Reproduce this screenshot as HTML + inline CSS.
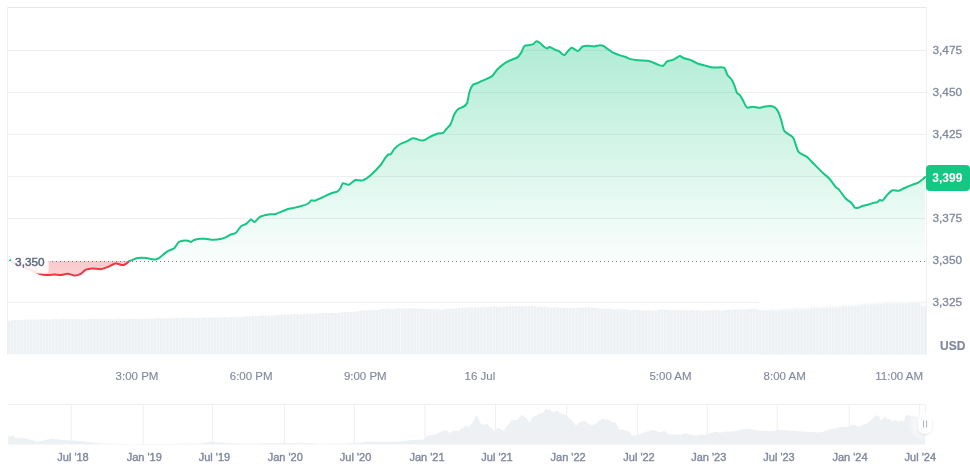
<!DOCTYPE html>
<html><head><meta charset="utf-8">
<style>
html,body{margin:0;padding:0;background:#fff;width:970px;height:467px;overflow:hidden}
svg{display:block;font-family:"Liberation Sans",sans-serif;will-change:transform}
</style></head><body>
<svg width="970" height="467" viewBox="0 0 970 467">
<defs>
<linearGradient id="gg" x1="0" y1="41" x2="0" y2="260" gradientUnits="userSpaceOnUse">
<stop offset="0" stop-color="#16c784" stop-opacity="0.34"/>
<stop offset="1" stop-color="#16c784" stop-opacity="0.02"/>
</linearGradient>
<linearGradient id="rg" x1="0" y1="260" x2="0" y2="276" gradientUnits="userSpaceOnUse">
<stop offset="0" stop-color="#ea3943" stop-opacity="0.28"/>
<stop offset="1" stop-color="#ea3943" stop-opacity="0.22"/>
</linearGradient>
<filter id="sh" x="-150%" y="-150%" width="400%" height="400%"><feDropShadow dx="0" dy="1" stdDeviation="1.2" flood-color="#000" flood-opacity="0.12"/></filter><radialGradient id="glow"><stop offset="0.4" stop-color="#fff" stop-opacity="0.9"/><stop offset="1" stop-color="#fff" stop-opacity="0"/></radialGradient>
</defs>
<!-- frame -->
<line x1="7" y1="7.5" x2="926" y2="7.5" stroke="#e8e8e8" stroke-width="1"/>
<line x1="7.5" y1="7" x2="7.5" y2="354.5" stroke="#efefef" stroke-width="1"/>
<line x1="926.5" y1="7" x2="926.5" y2="354.5" stroke="#efefef" stroke-width="1"/>
<g stroke="#efefef" stroke-width="1"><line x1="8" y1="50.5" x2="926" y2="50.5"/><line x1="8" y1="92.5" x2="926" y2="92.5"/><line x1="8" y1="134.5" x2="926" y2="134.5"/><line x1="8" y1="176.5" x2="926" y2="176.5"/><line x1="8" y1="218.5" x2="926" y2="218.5"/><line x1="8" y1="302.5" x2="759" y2="302.5"/></g>
<!-- volume -->
<clipPath id="cl"><rect x="8" y="250" width="751" height="104.5"/></clipPath><clipPath id="cr"><rect x="759" y="250" width="167" height="104.5"/></clipPath><filter id="vb" x="0" y="-20%" width="100%" height="140%"><feGaussianBlur stdDeviation="0 1.3"/></filter><g clip-path="url(#cl)"><polygon points="8.0,354.5 8.0,320.4 11.2,320.4 11.2,320.2 14.3,320.2 14.3,319.9 17.5,319.9 17.5,320.2 20.7,320.2 20.7,319.9 23.9,319.9 23.9,319.5 27.0,319.5 27.0,319.5 30.2,319.5 30.2,319.7 33.4,319.7 33.4,319.6 36.5,319.6 36.5,319.4 39.7,319.4 39.7,319.3 42.9,319.3 42.9,319.3 46.0,319.3 46.0,319.2 49.2,319.2 49.2,319.5 52.4,319.5 52.4,318.9 55.6,318.9 55.6,319.3 58.7,319.3 58.7,319.2 61.9,319.2 61.9,318.8 65.1,318.8 65.1,319.3 68.2,319.3 68.2,319.1 71.4,319.1 71.4,319.2 74.6,319.2 74.6,318.9 77.7,318.9 77.7,318.9 80.9,318.9 80.9,318.9 84.1,318.9 84.1,319.3 87.3,319.3 87.3,319.1 90.4,319.1 90.4,318.9 93.6,318.9 93.6,319.0 96.8,319.0 96.8,318.9 99.9,318.9 99.9,318.7 103.1,318.7 103.1,318.8 106.3,318.8 106.3,319.2 109.4,319.2 109.4,318.9 112.6,318.9 112.6,319.3 115.8,319.3 115.8,318.8 119.0,318.8 119.0,318.8 122.1,318.8 122.1,318.9 125.3,318.9 125.3,318.7 128.5,318.7 128.5,318.7 131.6,318.7 131.6,319.0 134.8,319.0 134.8,318.9 138.0,318.9 138.0,318.8 141.1,318.8 141.1,318.7 144.3,318.7 144.3,318.8 147.5,318.8 147.5,318.8 150.6,318.8 150.6,318.5 153.8,318.5 153.8,318.5 157.0,318.5 157.0,318.1 160.2,318.1 160.2,318.4 163.3,318.4 163.3,318.2 166.5,318.2 166.5,318.4 169.7,318.4 169.7,318.2 172.8,318.2 172.8,318.0 176.0,318.0 176.0,317.8 179.2,317.8 179.2,318.3 182.3,318.3 182.3,317.7 185.5,317.7 185.5,317.9 188.7,317.9 188.7,317.8 191.9,317.8 191.9,317.7 195.0,317.7 195.0,317.9 198.2,317.9 198.2,318.0 201.4,318.0 201.4,317.5 204.5,317.5 204.5,317.7 207.7,317.7 207.7,317.4 210.9,317.4 210.9,317.6 214.0,317.6 214.0,317.4 217.2,317.4 217.2,317.2 220.4,317.2 220.4,317.2 223.6,317.2 223.6,317.1 226.7,317.1 226.7,317.5 229.9,317.5 229.9,317.1 233.1,317.1 233.1,316.9 236.2,316.9 236.2,317.2 239.4,317.2 239.4,317.1 242.6,317.1 242.6,316.7 245.7,316.7 245.7,316.4 248.9,316.4 248.9,316.4 252.1,316.4 252.1,316.1 255.3,316.1 255.3,316.1 258.4,316.1 258.4,315.7 261.6,315.7 261.6,315.6 264.8,315.6 264.8,315.5 267.9,315.5 267.9,315.5 271.1,315.5 271.1,315.5 274.3,315.5 274.3,315.3 277.4,315.3 277.4,314.9 280.6,314.9 280.6,314.8 283.8,314.8 283.8,314.8 287.0,314.8 287.0,314.5 290.1,314.5 290.1,314.4 293.3,314.4 293.3,314.1 296.5,314.1 296.5,314.1 299.6,314.1 299.6,314.4 302.8,314.4 302.8,313.7 306.0,313.7 306.0,313.8 309.1,313.8 309.1,313.8 312.3,313.8 312.3,313.8 315.5,313.8 315.5,313.3 318.7,313.3 318.7,313.2 321.8,313.2 321.8,313.0 325.0,313.0 325.0,313.0 328.2,313.0 328.2,312.9 331.3,312.9 331.3,313.1 334.5,313.1 334.5,312.9 337.7,312.9 337.7,312.8 340.8,312.8 340.8,312.2 344.0,312.2 344.0,312.1 347.2,312.1 347.2,312.3 350.4,312.3 350.4,312.1 353.5,312.1 353.5,311.5 356.7,311.5 356.7,311.2 359.9,311.2 359.9,310.5 363.0,310.5 363.0,310.4 366.2,310.4 366.2,310.5 369.4,310.5 369.4,310.2 372.6,310.2 372.6,310.0 375.7,310.0 375.7,309.9 378.9,309.9 378.9,309.2 382.1,309.2 382.1,309.0 385.2,309.0 385.2,308.8 388.4,308.8 388.4,308.8 391.6,308.8 391.6,308.7 394.7,308.7 394.7,308.7 397.9,308.7 397.9,308.3 401.1,308.3 401.1,308.2 404.3,308.2 404.3,308.4 407.4,308.4 407.4,308.3 410.6,308.3 410.6,308.5 413.8,308.5 413.8,308.3 416.9,308.3 416.9,308.9 420.1,308.9 420.1,308.6 423.3,308.6 423.3,309.2 426.4,309.2 426.4,309.1 429.6,309.1 429.6,309.0 432.8,309.0 432.8,309.0 436.0,309.0 436.0,309.2 439.1,309.2 439.1,309.4 442.3,309.4 442.3,309.2 445.5,309.2 445.5,308.7 448.6,308.7 448.6,308.4 451.8,308.4 451.8,308.5 455.0,308.5 455.0,308.3 458.1,308.3 458.1,308.0 461.3,308.0 461.3,307.8 464.5,307.8 464.5,307.8 467.7,307.8 467.7,307.3 470.8,307.3 470.8,307.4 474.0,307.4 474.0,307.3 477.2,307.3 477.2,307.5 480.3,307.5 480.3,307.2 483.5,307.2 483.5,307.3 486.7,307.3 486.7,306.9 489.8,306.9 489.8,306.7 493.0,306.7 493.0,306.6 496.2,306.6 496.2,306.9 499.4,306.9 499.4,306.7 502.5,306.7 502.5,306.4 505.7,306.4 505.7,306.1 508.9,306.1 508.9,306.3 512.0,306.3 512.0,306.3 515.2,306.3 515.2,306.1 518.4,306.1 518.4,306.0 521.5,306.0 521.5,306.2 524.7,306.2 524.7,306.4 527.9,306.4 527.9,306.1 531.1,306.1 531.1,306.1 534.2,306.1 534.2,306.5 537.4,306.5 537.4,306.7 540.6,306.7 540.6,307.0 543.7,307.0 543.7,306.8 546.9,306.8 546.9,307.3 550.1,307.3 550.1,307.5 553.2,307.5 553.2,307.5 556.4,307.5 556.4,307.4 559.6,307.4 559.6,308.0 562.8,308.0 562.8,307.7 565.9,307.7 565.9,308.1 569.1,308.1 569.1,307.9 572.3,307.9 572.3,307.9 575.4,307.9 575.4,308.0 578.6,308.0 578.6,307.6 581.8,307.6 581.8,307.8 584.9,307.8 584.9,307.5 588.1,307.5 588.1,307.5 591.3,307.5 591.3,307.8 594.4,307.8 594.4,308.1 597.6,308.1 597.6,308.4 600.8,308.4 600.8,308.7 604.0,308.7 604.0,308.4 607.1,308.4 607.1,308.7 610.3,308.7 610.3,308.8 613.5,308.8 613.5,309.4 616.6,309.4 616.6,309.1 619.8,309.1 619.8,309.2 623.0,309.2 623.0,309.3 626.1,309.3 626.1,309.6 629.3,309.6 629.3,310.0 632.5,310.0 632.5,310.1 635.7,310.1 635.7,310.1 638.8,310.1 638.8,310.4 642.0,310.4 642.0,310.5 645.2,310.5 645.2,310.2 648.3,310.2 648.3,310.2 651.5,310.2 651.5,310.8 654.7,310.8 654.7,310.5 657.8,310.5 657.8,309.6 661.0,309.6 661.0,309.5 664.2,309.5 664.2,309.8 667.4,309.8 667.4,310.1 670.5,310.1 670.5,310.2 673.7,310.2 673.7,310.1 676.9,310.1 676.9,310.0 680.0,310.0 680.0,310.2 683.2,310.2 683.2,310.2 686.4,310.2 686.4,310.6 689.5,310.6 689.5,310.1 692.7,310.1 692.7,310.6 695.9,310.6 695.9,310.1 699.1,310.1 699.1,310.2 702.2,310.2 702.2,310.5 705.4,310.5 705.4,310.5 708.6,310.5 708.6,310.3 711.7,310.3 711.7,310.0 714.9,310.0 714.9,310.3 718.1,310.3 718.1,310.2 721.2,310.2 721.2,310.5 724.4,310.5 724.4,309.9 727.6,309.9 727.6,309.8 730.8,309.8 730.8,309.9 733.9,309.9 733.9,309.2 737.1,309.2 737.1,309.3 740.3,309.3 740.3,309.5 743.4,309.5 743.4,309.5 746.6,309.5 746.6,309.0 749.8,309.0 749.8,309.0 752.9,309.0 752.9,309.0 756.1,309.0 756.1,309.6 759.3,309.6 759.3,309.6 762.5,309.6 762.5,309.8 765.6,309.8 765.6,309.8 768.8,309.8 768.8,309.3 772.0,309.3 772.0,309.1 775.1,309.1 775.1,309.4 778.3,309.4 778.3,309.1 781.5,309.1 781.5,308.7 784.6,308.7 784.6,308.8 787.8,308.8 787.8,308.5 791.0,308.5 791.0,308.3 794.2,308.3 794.2,308.0 797.3,308.0 797.3,308.3 800.5,308.3 800.5,308.2 803.7,308.2 803.7,307.9 806.8,307.9 806.8,307.9 810.0,307.9 810.0,307.1 813.2,307.1 813.2,307.1 816.3,307.1 816.3,307.1 819.5,307.1 819.5,307.2 822.7,307.2 822.7,307.0 825.9,307.0 825.9,306.5 829.0,306.5 829.0,306.3 832.2,306.3 832.2,306.2 835.4,306.2 835.4,306.0 838.5,306.0 838.5,306.0 841.7,306.0 841.7,305.3 844.9,305.3 844.9,305.4 848.0,305.4 848.0,305.1 851.2,305.1 851.2,304.9 854.4,304.9 854.4,304.7 857.6,304.7 857.6,304.3 860.7,304.3 860.7,303.9 863.9,303.9 863.9,303.6 867.1,303.6 867.1,303.4 870.2,303.4 870.2,303.5 873.4,303.5 873.4,302.9 876.6,302.9 876.6,302.7 879.7,302.7 879.7,302.9 882.9,302.9 882.9,302.4 886.1,302.4 886.1,302.1 889.3,302.1 889.3,301.9 892.4,301.9 892.4,302.0 895.6,302.0 895.6,301.8 898.8,301.8 898.8,302.1 901.9,302.1 901.9,302.0 905.1,302.0 905.1,302.0 908.3,302.0 908.3,301.6 911.4,301.6 911.4,301.4 914.6,301.4 914.6,301.4 917.8,301.4 917.8,301.6 921.0,301.6 921.0,301.7 924.1,301.7 924.1,301.5 926.0,301.5 926.0,354.5" fill="#eef1f4"/><g stroke="#fff" stroke-opacity="0.45" stroke-width="0.9"><line x1="10.60" y1="320.4" x2="10.60" y2="354.5"/><line x1="13.77" y1="320.2" x2="13.77" y2="354.5"/><line x1="16.94" y1="319.9" x2="16.94" y2="354.5"/><line x1="20.11" y1="320.2" x2="20.11" y2="354.5"/><line x1="23.28" y1="319.9" x2="23.28" y2="354.5"/><line x1="26.45" y1="319.5" x2="26.45" y2="354.5"/><line x1="29.62" y1="319.5" x2="29.62" y2="354.5"/><line x1="32.79" y1="319.7" x2="32.79" y2="354.5"/><line x1="35.96" y1="319.6" x2="35.96" y2="354.5"/><line x1="39.13" y1="319.4" x2="39.13" y2="354.5"/><line x1="42.30" y1="319.3" x2="42.30" y2="354.5"/><line x1="45.47" y1="319.3" x2="45.47" y2="354.5"/><line x1="48.64" y1="319.2" x2="48.64" y2="354.5"/><line x1="51.81" y1="319.5" x2="51.81" y2="354.5"/><line x1="54.98" y1="318.9" x2="54.98" y2="354.5"/><line x1="58.15" y1="319.3" x2="58.15" y2="354.5"/><line x1="61.32" y1="319.2" x2="61.32" y2="354.5"/><line x1="64.49" y1="318.8" x2="64.49" y2="354.5"/><line x1="67.66" y1="319.3" x2="67.66" y2="354.5"/><line x1="70.83" y1="319.1" x2="70.83" y2="354.5"/><line x1="74.00" y1="319.2" x2="74.00" y2="354.5"/><line x1="77.17" y1="318.9" x2="77.17" y2="354.5"/><line x1="80.34" y1="318.9" x2="80.34" y2="354.5"/><line x1="83.51" y1="318.9" x2="83.51" y2="354.5"/><line x1="86.68" y1="319.3" x2="86.68" y2="354.5"/><line x1="89.85" y1="319.1" x2="89.85" y2="354.5"/><line x1="93.02" y1="318.9" x2="93.02" y2="354.5"/><line x1="96.19" y1="319.0" x2="96.19" y2="354.5"/><line x1="99.36" y1="318.9" x2="99.36" y2="354.5"/><line x1="102.53" y1="318.7" x2="102.53" y2="354.5"/><line x1="105.70" y1="318.8" x2="105.70" y2="354.5"/><line x1="108.87" y1="319.2" x2="108.87" y2="354.5"/><line x1="112.04" y1="318.9" x2="112.04" y2="354.5"/><line x1="115.21" y1="319.3" x2="115.21" y2="354.5"/><line x1="118.38" y1="318.8" x2="118.38" y2="354.5"/><line x1="121.55" y1="318.8" x2="121.55" y2="354.5"/><line x1="124.72" y1="318.9" x2="124.72" y2="354.5"/><line x1="127.89" y1="318.7" x2="127.89" y2="354.5"/><line x1="131.06" y1="318.7" x2="131.06" y2="354.5"/><line x1="134.23" y1="319.0" x2="134.23" y2="354.5"/><line x1="137.40" y1="318.9" x2="137.40" y2="354.5"/><line x1="140.57" y1="318.8" x2="140.57" y2="354.5"/><line x1="143.74" y1="318.7" x2="143.74" y2="354.5"/><line x1="146.91" y1="318.8" x2="146.91" y2="354.5"/><line x1="150.08" y1="318.8" x2="150.08" y2="354.5"/><line x1="153.25" y1="318.5" x2="153.25" y2="354.5"/><line x1="156.42" y1="318.5" x2="156.42" y2="354.5"/><line x1="159.59" y1="318.1" x2="159.59" y2="354.5"/><line x1="162.76" y1="318.4" x2="162.76" y2="354.5"/><line x1="165.93" y1="318.2" x2="165.93" y2="354.5"/><line x1="169.10" y1="318.4" x2="169.10" y2="354.5"/><line x1="172.27" y1="318.2" x2="172.27" y2="354.5"/><line x1="175.44" y1="318.0" x2="175.44" y2="354.5"/><line x1="178.61" y1="317.8" x2="178.61" y2="354.5"/><line x1="181.78" y1="318.3" x2="181.78" y2="354.5"/><line x1="184.95" y1="317.7" x2="184.95" y2="354.5"/><line x1="188.12" y1="317.9" x2="188.12" y2="354.5"/><line x1="191.29" y1="317.8" x2="191.29" y2="354.5"/><line x1="194.46" y1="317.7" x2="194.46" y2="354.5"/><line x1="197.63" y1="317.9" x2="197.63" y2="354.5"/><line x1="200.80" y1="318.0" x2="200.80" y2="354.5"/><line x1="203.97" y1="317.5" x2="203.97" y2="354.5"/><line x1="207.14" y1="317.7" x2="207.14" y2="354.5"/><line x1="210.31" y1="317.4" x2="210.31" y2="354.5"/><line x1="213.48" y1="317.6" x2="213.48" y2="354.5"/><line x1="216.65" y1="317.4" x2="216.65" y2="354.5"/><line x1="219.82" y1="317.2" x2="219.82" y2="354.5"/><line x1="222.99" y1="317.2" x2="222.99" y2="354.5"/><line x1="226.16" y1="317.1" x2="226.16" y2="354.5"/><line x1="229.33" y1="317.5" x2="229.33" y2="354.5"/><line x1="232.50" y1="317.1" x2="232.50" y2="354.5"/><line x1="235.67" y1="316.9" x2="235.67" y2="354.5"/><line x1="238.84" y1="317.2" x2="238.84" y2="354.5"/><line x1="242.01" y1="317.1" x2="242.01" y2="354.5"/><line x1="245.18" y1="316.7" x2="245.18" y2="354.5"/><line x1="248.35" y1="316.4" x2="248.35" y2="354.5"/><line x1="251.52" y1="316.4" x2="251.52" y2="354.5"/><line x1="254.69" y1="316.1" x2="254.69" y2="354.5"/><line x1="257.86" y1="316.1" x2="257.86" y2="354.5"/><line x1="261.03" y1="315.7" x2="261.03" y2="354.5"/><line x1="264.20" y1="315.6" x2="264.20" y2="354.5"/><line x1="267.37" y1="315.5" x2="267.37" y2="354.5"/><line x1="270.54" y1="315.5" x2="270.54" y2="354.5"/><line x1="273.71" y1="315.5" x2="273.71" y2="354.5"/><line x1="276.88" y1="315.3" x2="276.88" y2="354.5"/><line x1="280.05" y1="314.9" x2="280.05" y2="354.5"/><line x1="283.22" y1="314.8" x2="283.22" y2="354.5"/><line x1="286.39" y1="314.8" x2="286.39" y2="354.5"/><line x1="289.56" y1="314.5" x2="289.56" y2="354.5"/><line x1="292.73" y1="314.4" x2="292.73" y2="354.5"/><line x1="295.90" y1="314.1" x2="295.90" y2="354.5"/><line x1="299.07" y1="314.1" x2="299.07" y2="354.5"/><line x1="302.24" y1="314.4" x2="302.24" y2="354.5"/><line x1="305.41" y1="313.7" x2="305.41" y2="354.5"/><line x1="308.58" y1="313.8" x2="308.58" y2="354.5"/><line x1="311.75" y1="313.8" x2="311.75" y2="354.5"/><line x1="314.92" y1="313.8" x2="314.92" y2="354.5"/><line x1="318.09" y1="313.3" x2="318.09" y2="354.5"/><line x1="321.26" y1="313.2" x2="321.26" y2="354.5"/><line x1="324.43" y1="313.0" x2="324.43" y2="354.5"/><line x1="327.60" y1="313.0" x2="327.60" y2="354.5"/><line x1="330.77" y1="312.9" x2="330.77" y2="354.5"/><line x1="333.94" y1="313.1" x2="333.94" y2="354.5"/><line x1="337.11" y1="312.9" x2="337.11" y2="354.5"/><line x1="340.28" y1="312.8" x2="340.28" y2="354.5"/><line x1="343.45" y1="312.2" x2="343.45" y2="354.5"/><line x1="346.62" y1="312.1" x2="346.62" y2="354.5"/><line x1="349.79" y1="312.3" x2="349.79" y2="354.5"/><line x1="352.96" y1="312.1" x2="352.96" y2="354.5"/><line x1="356.13" y1="311.5" x2="356.13" y2="354.5"/><line x1="359.30" y1="311.2" x2="359.30" y2="354.5"/><line x1="362.47" y1="310.5" x2="362.47" y2="354.5"/><line x1="365.64" y1="310.4" x2="365.64" y2="354.5"/><line x1="368.81" y1="310.5" x2="368.81" y2="354.5"/><line x1="371.98" y1="310.2" x2="371.98" y2="354.5"/><line x1="375.15" y1="310.0" x2="375.15" y2="354.5"/><line x1="378.32" y1="309.9" x2="378.32" y2="354.5"/><line x1="381.49" y1="309.2" x2="381.49" y2="354.5"/><line x1="384.66" y1="309.0" x2="384.66" y2="354.5"/><line x1="387.83" y1="308.8" x2="387.83" y2="354.5"/><line x1="391.00" y1="308.8" x2="391.00" y2="354.5"/><line x1="394.17" y1="308.7" x2="394.17" y2="354.5"/><line x1="397.34" y1="308.7" x2="397.34" y2="354.5"/><line x1="400.51" y1="308.3" x2="400.51" y2="354.5"/><line x1="403.68" y1="308.2" x2="403.68" y2="354.5"/><line x1="406.85" y1="308.4" x2="406.85" y2="354.5"/><line x1="410.02" y1="308.3" x2="410.02" y2="354.5"/><line x1="413.19" y1="308.5" x2="413.19" y2="354.5"/><line x1="416.36" y1="308.3" x2="416.36" y2="354.5"/><line x1="419.53" y1="308.9" x2="419.53" y2="354.5"/><line x1="422.70" y1="308.6" x2="422.70" y2="354.5"/><line x1="425.87" y1="309.2" x2="425.87" y2="354.5"/><line x1="429.04" y1="309.1" x2="429.04" y2="354.5"/><line x1="432.21" y1="309.0" x2="432.21" y2="354.5"/><line x1="435.38" y1="309.0" x2="435.38" y2="354.5"/><line x1="438.55" y1="309.2" x2="438.55" y2="354.5"/><line x1="441.72" y1="309.4" x2="441.72" y2="354.5"/><line x1="444.89" y1="309.2" x2="444.89" y2="354.5"/><line x1="448.06" y1="308.7" x2="448.06" y2="354.5"/><line x1="451.23" y1="308.4" x2="451.23" y2="354.5"/><line x1="454.40" y1="308.5" x2="454.40" y2="354.5"/><line x1="457.57" y1="308.3" x2="457.57" y2="354.5"/><line x1="460.74" y1="308.0" x2="460.74" y2="354.5"/><line x1="463.91" y1="307.8" x2="463.91" y2="354.5"/><line x1="467.08" y1="307.8" x2="467.08" y2="354.5"/><line x1="470.25" y1="307.3" x2="470.25" y2="354.5"/><line x1="473.42" y1="307.4" x2="473.42" y2="354.5"/><line x1="476.59" y1="307.3" x2="476.59" y2="354.5"/><line x1="479.76" y1="307.5" x2="479.76" y2="354.5"/><line x1="482.93" y1="307.2" x2="482.93" y2="354.5"/><line x1="486.10" y1="307.3" x2="486.10" y2="354.5"/><line x1="489.27" y1="306.9" x2="489.27" y2="354.5"/><line x1="492.44" y1="306.7" x2="492.44" y2="354.5"/><line x1="495.61" y1="306.6" x2="495.61" y2="354.5"/><line x1="498.78" y1="306.9" x2="498.78" y2="354.5"/><line x1="501.95" y1="306.7" x2="501.95" y2="354.5"/><line x1="505.12" y1="306.4" x2="505.12" y2="354.5"/><line x1="508.29" y1="306.1" x2="508.29" y2="354.5"/><line x1="511.46" y1="306.3" x2="511.46" y2="354.5"/><line x1="514.63" y1="306.3" x2="514.63" y2="354.5"/><line x1="517.80" y1="306.1" x2="517.80" y2="354.5"/><line x1="520.97" y1="306.0" x2="520.97" y2="354.5"/><line x1="524.14" y1="306.2" x2="524.14" y2="354.5"/><line x1="527.31" y1="306.4" x2="527.31" y2="354.5"/><line x1="530.48" y1="306.1" x2="530.48" y2="354.5"/><line x1="533.65" y1="306.1" x2="533.65" y2="354.5"/><line x1="536.82" y1="306.5" x2="536.82" y2="354.5"/><line x1="539.99" y1="306.7" x2="539.99" y2="354.5"/><line x1="543.16" y1="307.0" x2="543.16" y2="354.5"/><line x1="546.33" y1="306.8" x2="546.33" y2="354.5"/><line x1="549.50" y1="307.3" x2="549.50" y2="354.5"/><line x1="552.67" y1="307.5" x2="552.67" y2="354.5"/><line x1="555.84" y1="307.5" x2="555.84" y2="354.5"/><line x1="559.01" y1="307.4" x2="559.01" y2="354.5"/><line x1="562.18" y1="308.0" x2="562.18" y2="354.5"/><line x1="565.35" y1="307.7" x2="565.35" y2="354.5"/><line x1="568.52" y1="308.1" x2="568.52" y2="354.5"/><line x1="571.69" y1="307.9" x2="571.69" y2="354.5"/><line x1="574.86" y1="307.9" x2="574.86" y2="354.5"/><line x1="578.03" y1="308.0" x2="578.03" y2="354.5"/><line x1="581.20" y1="307.6" x2="581.20" y2="354.5"/><line x1="584.37" y1="307.8" x2="584.37" y2="354.5"/><line x1="587.54" y1="307.5" x2="587.54" y2="354.5"/><line x1="590.71" y1="307.5" x2="590.71" y2="354.5"/><line x1="593.88" y1="307.8" x2="593.88" y2="354.5"/><line x1="597.05" y1="308.1" x2="597.05" y2="354.5"/><line x1="600.22" y1="308.4" x2="600.22" y2="354.5"/><line x1="603.39" y1="308.7" x2="603.39" y2="354.5"/><line x1="606.56" y1="308.4" x2="606.56" y2="354.5"/><line x1="609.73" y1="308.7" x2="609.73" y2="354.5"/><line x1="612.90" y1="308.8" x2="612.90" y2="354.5"/><line x1="616.07" y1="309.4" x2="616.07" y2="354.5"/><line x1="619.24" y1="309.1" x2="619.24" y2="354.5"/><line x1="622.41" y1="309.2" x2="622.41" y2="354.5"/><line x1="625.58" y1="309.3" x2="625.58" y2="354.5"/><line x1="628.75" y1="309.6" x2="628.75" y2="354.5"/><line x1="631.92" y1="310.0" x2="631.92" y2="354.5"/><line x1="635.09" y1="310.1" x2="635.09" y2="354.5"/><line x1="638.26" y1="310.1" x2="638.26" y2="354.5"/><line x1="641.43" y1="310.4" x2="641.43" y2="354.5"/><line x1="644.60" y1="310.5" x2="644.60" y2="354.5"/><line x1="647.77" y1="310.2" x2="647.77" y2="354.5"/><line x1="650.94" y1="310.2" x2="650.94" y2="354.5"/><line x1="654.11" y1="310.8" x2="654.11" y2="354.5"/><line x1="657.28" y1="310.5" x2="657.28" y2="354.5"/><line x1="660.45" y1="309.6" x2="660.45" y2="354.5"/><line x1="663.62" y1="309.5" x2="663.62" y2="354.5"/><line x1="666.79" y1="309.8" x2="666.79" y2="354.5"/><line x1="669.96" y1="310.1" x2="669.96" y2="354.5"/><line x1="673.13" y1="310.2" x2="673.13" y2="354.5"/><line x1="676.30" y1="310.1" x2="676.30" y2="354.5"/><line x1="679.47" y1="310.0" x2="679.47" y2="354.5"/><line x1="682.64" y1="310.2" x2="682.64" y2="354.5"/><line x1="685.81" y1="310.2" x2="685.81" y2="354.5"/><line x1="688.98" y1="310.6" x2="688.98" y2="354.5"/><line x1="692.15" y1="310.1" x2="692.15" y2="354.5"/><line x1="695.32" y1="310.6" x2="695.32" y2="354.5"/><line x1="698.49" y1="310.1" x2="698.49" y2="354.5"/><line x1="701.66" y1="310.2" x2="701.66" y2="354.5"/><line x1="704.83" y1="310.5" x2="704.83" y2="354.5"/><line x1="708.00" y1="310.5" x2="708.00" y2="354.5"/><line x1="711.17" y1="310.3" x2="711.17" y2="354.5"/><line x1="714.34" y1="310.0" x2="714.34" y2="354.5"/><line x1="717.51" y1="310.3" x2="717.51" y2="354.5"/><line x1="720.68" y1="310.2" x2="720.68" y2="354.5"/><line x1="723.85" y1="310.5" x2="723.85" y2="354.5"/><line x1="727.02" y1="309.9" x2="727.02" y2="354.5"/><line x1="730.19" y1="309.8" x2="730.19" y2="354.5"/><line x1="733.36" y1="309.9" x2="733.36" y2="354.5"/><line x1="736.53" y1="309.2" x2="736.53" y2="354.5"/><line x1="739.70" y1="309.3" x2="739.70" y2="354.5"/><line x1="742.87" y1="309.5" x2="742.87" y2="354.5"/><line x1="746.04" y1="309.5" x2="746.04" y2="354.5"/><line x1="749.21" y1="309.0" x2="749.21" y2="354.5"/><line x1="752.38" y1="309.0" x2="752.38" y2="354.5"/><line x1="755.55" y1="309.0" x2="755.55" y2="354.5"/><line x1="758.72" y1="309.6" x2="758.72" y2="354.5"/><line x1="761.89" y1="309.6" x2="761.89" y2="354.5"/><line x1="765.06" y1="309.8" x2="765.06" y2="354.5"/><line x1="768.23" y1="309.8" x2="768.23" y2="354.5"/><line x1="771.40" y1="309.3" x2="771.40" y2="354.5"/><line x1="774.57" y1="309.1" x2="774.57" y2="354.5"/><line x1="777.74" y1="309.4" x2="777.74" y2="354.5"/><line x1="780.91" y1="309.1" x2="780.91" y2="354.5"/><line x1="784.08" y1="308.7" x2="784.08" y2="354.5"/><line x1="787.25" y1="308.8" x2="787.25" y2="354.5"/><line x1="790.42" y1="308.5" x2="790.42" y2="354.5"/><line x1="793.59" y1="308.3" x2="793.59" y2="354.5"/><line x1="796.76" y1="308.0" x2="796.76" y2="354.5"/><line x1="799.93" y1="308.3" x2="799.93" y2="354.5"/><line x1="803.10" y1="308.2" x2="803.10" y2="354.5"/><line x1="806.27" y1="307.9" x2="806.27" y2="354.5"/><line x1="809.44" y1="307.9" x2="809.44" y2="354.5"/><line x1="812.61" y1="307.1" x2="812.61" y2="354.5"/><line x1="815.78" y1="307.1" x2="815.78" y2="354.5"/><line x1="818.95" y1="307.1" x2="818.95" y2="354.5"/><line x1="822.12" y1="307.2" x2="822.12" y2="354.5"/><line x1="825.29" y1="307.0" x2="825.29" y2="354.5"/><line x1="828.46" y1="306.5" x2="828.46" y2="354.5"/><line x1="831.63" y1="306.3" x2="831.63" y2="354.5"/><line x1="834.80" y1="306.2" x2="834.80" y2="354.5"/><line x1="837.97" y1="306.0" x2="837.97" y2="354.5"/><line x1="841.14" y1="306.0" x2="841.14" y2="354.5"/><line x1="844.31" y1="305.3" x2="844.31" y2="354.5"/><line x1="847.48" y1="305.4" x2="847.48" y2="354.5"/><line x1="850.65" y1="305.1" x2="850.65" y2="354.5"/><line x1="853.82" y1="304.9" x2="853.82" y2="354.5"/><line x1="856.99" y1="304.7" x2="856.99" y2="354.5"/><line x1="860.16" y1="304.3" x2="860.16" y2="354.5"/><line x1="863.33" y1="303.9" x2="863.33" y2="354.5"/><line x1="866.50" y1="303.6" x2="866.50" y2="354.5"/><line x1="869.67" y1="303.4" x2="869.67" y2="354.5"/><line x1="872.84" y1="303.5" x2="872.84" y2="354.5"/><line x1="876.01" y1="302.9" x2="876.01" y2="354.5"/><line x1="879.18" y1="302.7" x2="879.18" y2="354.5"/><line x1="882.35" y1="302.9" x2="882.35" y2="354.5"/><line x1="885.52" y1="302.4" x2="885.52" y2="354.5"/><line x1="888.69" y1="302.1" x2="888.69" y2="354.5"/><line x1="891.86" y1="301.9" x2="891.86" y2="354.5"/><line x1="895.03" y1="302.0" x2="895.03" y2="354.5"/><line x1="898.20" y1="301.8" x2="898.20" y2="354.5"/><line x1="901.37" y1="302.1" x2="901.37" y2="354.5"/><line x1="904.54" y1="302.0" x2="904.54" y2="354.5"/><line x1="907.71" y1="302.0" x2="907.71" y2="354.5"/><line x1="910.88" y1="301.6" x2="910.88" y2="354.5"/><line x1="914.05" y1="301.4" x2="914.05" y2="354.5"/><line x1="917.22" y1="301.4" x2="917.22" y2="354.5"/><line x1="920.39" y1="301.6" x2="920.39" y2="354.5"/><line x1="923.56" y1="301.7" x2="923.56" y2="354.5"/><line x1="926.73" y1="301.5" x2="926.73" y2="354.5"/></g></g><g clip-path="url(#cr)"><g filter="url(#vb)"><polygon points="8.0,354.5 8.0,320.4 11.2,320.4 11.2,320.2 14.3,320.2 14.3,319.9 17.5,319.9 17.5,320.2 20.7,320.2 20.7,319.9 23.9,319.9 23.9,319.5 27.0,319.5 27.0,319.5 30.2,319.5 30.2,319.7 33.4,319.7 33.4,319.6 36.5,319.6 36.5,319.4 39.7,319.4 39.7,319.3 42.9,319.3 42.9,319.3 46.0,319.3 46.0,319.2 49.2,319.2 49.2,319.5 52.4,319.5 52.4,318.9 55.6,318.9 55.6,319.3 58.7,319.3 58.7,319.2 61.9,319.2 61.9,318.8 65.1,318.8 65.1,319.3 68.2,319.3 68.2,319.1 71.4,319.1 71.4,319.2 74.6,319.2 74.6,318.9 77.7,318.9 77.7,318.9 80.9,318.9 80.9,318.9 84.1,318.9 84.1,319.3 87.3,319.3 87.3,319.1 90.4,319.1 90.4,318.9 93.6,318.9 93.6,319.0 96.8,319.0 96.8,318.9 99.9,318.9 99.9,318.7 103.1,318.7 103.1,318.8 106.3,318.8 106.3,319.2 109.4,319.2 109.4,318.9 112.6,318.9 112.6,319.3 115.8,319.3 115.8,318.8 119.0,318.8 119.0,318.8 122.1,318.8 122.1,318.9 125.3,318.9 125.3,318.7 128.5,318.7 128.5,318.7 131.6,318.7 131.6,319.0 134.8,319.0 134.8,318.9 138.0,318.9 138.0,318.8 141.1,318.8 141.1,318.7 144.3,318.7 144.3,318.8 147.5,318.8 147.5,318.8 150.6,318.8 150.6,318.5 153.8,318.5 153.8,318.5 157.0,318.5 157.0,318.1 160.2,318.1 160.2,318.4 163.3,318.4 163.3,318.2 166.5,318.2 166.5,318.4 169.7,318.4 169.7,318.2 172.8,318.2 172.8,318.0 176.0,318.0 176.0,317.8 179.2,317.8 179.2,318.3 182.3,318.3 182.3,317.7 185.5,317.7 185.5,317.9 188.7,317.9 188.7,317.8 191.9,317.8 191.9,317.7 195.0,317.7 195.0,317.9 198.2,317.9 198.2,318.0 201.4,318.0 201.4,317.5 204.5,317.5 204.5,317.7 207.7,317.7 207.7,317.4 210.9,317.4 210.9,317.6 214.0,317.6 214.0,317.4 217.2,317.4 217.2,317.2 220.4,317.2 220.4,317.2 223.6,317.2 223.6,317.1 226.7,317.1 226.7,317.5 229.9,317.5 229.9,317.1 233.1,317.1 233.1,316.9 236.2,316.9 236.2,317.2 239.4,317.2 239.4,317.1 242.6,317.1 242.6,316.7 245.7,316.7 245.7,316.4 248.9,316.4 248.9,316.4 252.1,316.4 252.1,316.1 255.3,316.1 255.3,316.1 258.4,316.1 258.4,315.7 261.6,315.7 261.6,315.6 264.8,315.6 264.8,315.5 267.9,315.5 267.9,315.5 271.1,315.5 271.1,315.5 274.3,315.5 274.3,315.3 277.4,315.3 277.4,314.9 280.6,314.9 280.6,314.8 283.8,314.8 283.8,314.8 287.0,314.8 287.0,314.5 290.1,314.5 290.1,314.4 293.3,314.4 293.3,314.1 296.5,314.1 296.5,314.1 299.6,314.1 299.6,314.4 302.8,314.4 302.8,313.7 306.0,313.7 306.0,313.8 309.1,313.8 309.1,313.8 312.3,313.8 312.3,313.8 315.5,313.8 315.5,313.3 318.7,313.3 318.7,313.2 321.8,313.2 321.8,313.0 325.0,313.0 325.0,313.0 328.2,313.0 328.2,312.9 331.3,312.9 331.3,313.1 334.5,313.1 334.5,312.9 337.7,312.9 337.7,312.8 340.8,312.8 340.8,312.2 344.0,312.2 344.0,312.1 347.2,312.1 347.2,312.3 350.4,312.3 350.4,312.1 353.5,312.1 353.5,311.5 356.7,311.5 356.7,311.2 359.9,311.2 359.9,310.5 363.0,310.5 363.0,310.4 366.2,310.4 366.2,310.5 369.4,310.5 369.4,310.2 372.6,310.2 372.6,310.0 375.7,310.0 375.7,309.9 378.9,309.9 378.9,309.2 382.1,309.2 382.1,309.0 385.2,309.0 385.2,308.8 388.4,308.8 388.4,308.8 391.6,308.8 391.6,308.7 394.7,308.7 394.7,308.7 397.9,308.7 397.9,308.3 401.1,308.3 401.1,308.2 404.3,308.2 404.3,308.4 407.4,308.4 407.4,308.3 410.6,308.3 410.6,308.5 413.8,308.5 413.8,308.3 416.9,308.3 416.9,308.9 420.1,308.9 420.1,308.6 423.3,308.6 423.3,309.2 426.4,309.2 426.4,309.1 429.6,309.1 429.6,309.0 432.8,309.0 432.8,309.0 436.0,309.0 436.0,309.2 439.1,309.2 439.1,309.4 442.3,309.4 442.3,309.2 445.5,309.2 445.5,308.7 448.6,308.7 448.6,308.4 451.8,308.4 451.8,308.5 455.0,308.5 455.0,308.3 458.1,308.3 458.1,308.0 461.3,308.0 461.3,307.8 464.5,307.8 464.5,307.8 467.7,307.8 467.7,307.3 470.8,307.3 470.8,307.4 474.0,307.4 474.0,307.3 477.2,307.3 477.2,307.5 480.3,307.5 480.3,307.2 483.5,307.2 483.5,307.3 486.7,307.3 486.7,306.9 489.8,306.9 489.8,306.7 493.0,306.7 493.0,306.6 496.2,306.6 496.2,306.9 499.4,306.9 499.4,306.7 502.5,306.7 502.5,306.4 505.7,306.4 505.7,306.1 508.9,306.1 508.9,306.3 512.0,306.3 512.0,306.3 515.2,306.3 515.2,306.1 518.4,306.1 518.4,306.0 521.5,306.0 521.5,306.2 524.7,306.2 524.7,306.4 527.9,306.4 527.9,306.1 531.1,306.1 531.1,306.1 534.2,306.1 534.2,306.5 537.4,306.5 537.4,306.7 540.6,306.7 540.6,307.0 543.7,307.0 543.7,306.8 546.9,306.8 546.9,307.3 550.1,307.3 550.1,307.5 553.2,307.5 553.2,307.5 556.4,307.5 556.4,307.4 559.6,307.4 559.6,308.0 562.8,308.0 562.8,307.7 565.9,307.7 565.9,308.1 569.1,308.1 569.1,307.9 572.3,307.9 572.3,307.9 575.4,307.9 575.4,308.0 578.6,308.0 578.6,307.6 581.8,307.6 581.8,307.8 584.9,307.8 584.9,307.5 588.1,307.5 588.1,307.5 591.3,307.5 591.3,307.8 594.4,307.8 594.4,308.1 597.6,308.1 597.6,308.4 600.8,308.4 600.8,308.7 604.0,308.7 604.0,308.4 607.1,308.4 607.1,308.7 610.3,308.7 610.3,308.8 613.5,308.8 613.5,309.4 616.6,309.4 616.6,309.1 619.8,309.1 619.8,309.2 623.0,309.2 623.0,309.3 626.1,309.3 626.1,309.6 629.3,309.6 629.3,310.0 632.5,310.0 632.5,310.1 635.7,310.1 635.7,310.1 638.8,310.1 638.8,310.4 642.0,310.4 642.0,310.5 645.2,310.5 645.2,310.2 648.3,310.2 648.3,310.2 651.5,310.2 651.5,310.8 654.7,310.8 654.7,310.5 657.8,310.5 657.8,309.6 661.0,309.6 661.0,309.5 664.2,309.5 664.2,309.8 667.4,309.8 667.4,310.1 670.5,310.1 670.5,310.2 673.7,310.2 673.7,310.1 676.9,310.1 676.9,310.0 680.0,310.0 680.0,310.2 683.2,310.2 683.2,310.2 686.4,310.2 686.4,310.6 689.5,310.6 689.5,310.1 692.7,310.1 692.7,310.6 695.9,310.6 695.9,310.1 699.1,310.1 699.1,310.2 702.2,310.2 702.2,310.5 705.4,310.5 705.4,310.5 708.6,310.5 708.6,310.3 711.7,310.3 711.7,310.0 714.9,310.0 714.9,310.3 718.1,310.3 718.1,310.2 721.2,310.2 721.2,310.5 724.4,310.5 724.4,309.9 727.6,309.9 727.6,309.8 730.8,309.8 730.8,309.9 733.9,309.9 733.9,309.2 737.1,309.2 737.1,309.3 740.3,309.3 740.3,309.5 743.4,309.5 743.4,309.5 746.6,309.5 746.6,309.0 749.8,309.0 749.8,309.0 752.9,309.0 752.9,309.0 756.1,309.0 756.1,309.6 759.3,310.1 759.3,310.1 762.5,310.1 762.5,310.3 765.6,310.3 765.6,310.3 768.8,310.3 768.8,309.8 772.0,309.8 772.0,309.6 775.1,309.6 775.1,309.9 778.3,309.9 778.3,309.6 781.5,309.6 781.5,309.2 784.6,309.2 784.6,309.3 787.8,309.3 787.8,309.0 791.0,309.0 791.0,308.8 794.2,308.8 794.2,308.5 797.3,308.5 797.3,308.8 800.5,308.8 800.5,308.7 803.7,308.7 803.7,308.4 806.8,308.4 806.8,308.4 810.0,308.4 810.0,307.6 813.2,307.6 813.2,307.6 816.3,307.6 816.3,307.6 819.5,307.6 819.5,307.7 822.7,307.7 822.7,307.5 825.9,307.5 825.9,307.0 829.0,307.0 829.0,306.8 832.2,306.8 832.2,306.7 835.4,306.7 835.4,306.5 838.5,306.5 838.5,306.5 841.7,306.5 841.7,305.8 844.9,305.8 844.9,305.9 848.0,305.9 848.0,305.6 851.2,305.6 851.2,305.4 854.4,305.4 854.4,305.2 857.6,305.2 857.6,304.8 860.7,304.8 860.7,304.4 863.9,304.4 863.9,304.1 867.1,304.1 867.1,303.9 870.2,303.9 870.2,304.0 873.4,304.0 873.4,303.4 876.6,303.4 876.6,303.2 879.7,303.2 879.7,303.4 882.9,303.4 882.9,302.9 886.1,302.9 886.1,302.6 889.3,302.6 889.3,302.4 892.4,302.4 892.4,302.5 895.6,302.5 895.6,302.3 898.8,302.3 898.8,302.6 901.9,302.6 901.9,302.5 905.1,302.5 905.1,302.5 908.3,302.5 908.3,302.1 911.4,302.1 911.4,301.9 914.6,301.9 914.6,301.9 917.8,301.9 917.8,302.1 921.0,302.1 921.0,302.2 924.1,302.2 924.1,302.0 926.0,302.0 926.0,360.0 8.0,360.0" fill="#eef1f4"/><g stroke="#fff" stroke-opacity="0.45" stroke-width="0.9"><line x1="10.60" y1="320.4" x2="10.60" y2="354.5"/><line x1="13.77" y1="320.2" x2="13.77" y2="354.5"/><line x1="16.94" y1="319.9" x2="16.94" y2="354.5"/><line x1="20.11" y1="320.2" x2="20.11" y2="354.5"/><line x1="23.28" y1="319.9" x2="23.28" y2="354.5"/><line x1="26.45" y1="319.5" x2="26.45" y2="354.5"/><line x1="29.62" y1="319.5" x2="29.62" y2="354.5"/><line x1="32.79" y1="319.7" x2="32.79" y2="354.5"/><line x1="35.96" y1="319.6" x2="35.96" y2="354.5"/><line x1="39.13" y1="319.4" x2="39.13" y2="354.5"/><line x1="42.30" y1="319.3" x2="42.30" y2="354.5"/><line x1="45.47" y1="319.3" x2="45.47" y2="354.5"/><line x1="48.64" y1="319.2" x2="48.64" y2="354.5"/><line x1="51.81" y1="319.5" x2="51.81" y2="354.5"/><line x1="54.98" y1="318.9" x2="54.98" y2="354.5"/><line x1="58.15" y1="319.3" x2="58.15" y2="354.5"/><line x1="61.32" y1="319.2" x2="61.32" y2="354.5"/><line x1="64.49" y1="318.8" x2="64.49" y2="354.5"/><line x1="67.66" y1="319.3" x2="67.66" y2="354.5"/><line x1="70.83" y1="319.1" x2="70.83" y2="354.5"/><line x1="74.00" y1="319.2" x2="74.00" y2="354.5"/><line x1="77.17" y1="318.9" x2="77.17" y2="354.5"/><line x1="80.34" y1="318.9" x2="80.34" y2="354.5"/><line x1="83.51" y1="318.9" x2="83.51" y2="354.5"/><line x1="86.68" y1="319.3" x2="86.68" y2="354.5"/><line x1="89.85" y1="319.1" x2="89.85" y2="354.5"/><line x1="93.02" y1="318.9" x2="93.02" y2="354.5"/><line x1="96.19" y1="319.0" x2="96.19" y2="354.5"/><line x1="99.36" y1="318.9" x2="99.36" y2="354.5"/><line x1="102.53" y1="318.7" x2="102.53" y2="354.5"/><line x1="105.70" y1="318.8" x2="105.70" y2="354.5"/><line x1="108.87" y1="319.2" x2="108.87" y2="354.5"/><line x1="112.04" y1="318.9" x2="112.04" y2="354.5"/><line x1="115.21" y1="319.3" x2="115.21" y2="354.5"/><line x1="118.38" y1="318.8" x2="118.38" y2="354.5"/><line x1="121.55" y1="318.8" x2="121.55" y2="354.5"/><line x1="124.72" y1="318.9" x2="124.72" y2="354.5"/><line x1="127.89" y1="318.7" x2="127.89" y2="354.5"/><line x1="131.06" y1="318.7" x2="131.06" y2="354.5"/><line x1="134.23" y1="319.0" x2="134.23" y2="354.5"/><line x1="137.40" y1="318.9" x2="137.40" y2="354.5"/><line x1="140.57" y1="318.8" x2="140.57" y2="354.5"/><line x1="143.74" y1="318.7" x2="143.74" y2="354.5"/><line x1="146.91" y1="318.8" x2="146.91" y2="354.5"/><line x1="150.08" y1="318.8" x2="150.08" y2="354.5"/><line x1="153.25" y1="318.5" x2="153.25" y2="354.5"/><line x1="156.42" y1="318.5" x2="156.42" y2="354.5"/><line x1="159.59" y1="318.1" x2="159.59" y2="354.5"/><line x1="162.76" y1="318.4" x2="162.76" y2="354.5"/><line x1="165.93" y1="318.2" x2="165.93" y2="354.5"/><line x1="169.10" y1="318.4" x2="169.10" y2="354.5"/><line x1="172.27" y1="318.2" x2="172.27" y2="354.5"/><line x1="175.44" y1="318.0" x2="175.44" y2="354.5"/><line x1="178.61" y1="317.8" x2="178.61" y2="354.5"/><line x1="181.78" y1="318.3" x2="181.78" y2="354.5"/><line x1="184.95" y1="317.7" x2="184.95" y2="354.5"/><line x1="188.12" y1="317.9" x2="188.12" y2="354.5"/><line x1="191.29" y1="317.8" x2="191.29" y2="354.5"/><line x1="194.46" y1="317.7" x2="194.46" y2="354.5"/><line x1="197.63" y1="317.9" x2="197.63" y2="354.5"/><line x1="200.80" y1="318.0" x2="200.80" y2="354.5"/><line x1="203.97" y1="317.5" x2="203.97" y2="354.5"/><line x1="207.14" y1="317.7" x2="207.14" y2="354.5"/><line x1="210.31" y1="317.4" x2="210.31" y2="354.5"/><line x1="213.48" y1="317.6" x2="213.48" y2="354.5"/><line x1="216.65" y1="317.4" x2="216.65" y2="354.5"/><line x1="219.82" y1="317.2" x2="219.82" y2="354.5"/><line x1="222.99" y1="317.2" x2="222.99" y2="354.5"/><line x1="226.16" y1="317.1" x2="226.16" y2="354.5"/><line x1="229.33" y1="317.5" x2="229.33" y2="354.5"/><line x1="232.50" y1="317.1" x2="232.50" y2="354.5"/><line x1="235.67" y1="316.9" x2="235.67" y2="354.5"/><line x1="238.84" y1="317.2" x2="238.84" y2="354.5"/><line x1="242.01" y1="317.1" x2="242.01" y2="354.5"/><line x1="245.18" y1="316.7" x2="245.18" y2="354.5"/><line x1="248.35" y1="316.4" x2="248.35" y2="354.5"/><line x1="251.52" y1="316.4" x2="251.52" y2="354.5"/><line x1="254.69" y1="316.1" x2="254.69" y2="354.5"/><line x1="257.86" y1="316.1" x2="257.86" y2="354.5"/><line x1="261.03" y1="315.7" x2="261.03" y2="354.5"/><line x1="264.20" y1="315.6" x2="264.20" y2="354.5"/><line x1="267.37" y1="315.5" x2="267.37" y2="354.5"/><line x1="270.54" y1="315.5" x2="270.54" y2="354.5"/><line x1="273.71" y1="315.5" x2="273.71" y2="354.5"/><line x1="276.88" y1="315.3" x2="276.88" y2="354.5"/><line x1="280.05" y1="314.9" x2="280.05" y2="354.5"/><line x1="283.22" y1="314.8" x2="283.22" y2="354.5"/><line x1="286.39" y1="314.8" x2="286.39" y2="354.5"/><line x1="289.56" y1="314.5" x2="289.56" y2="354.5"/><line x1="292.73" y1="314.4" x2="292.73" y2="354.5"/><line x1="295.90" y1="314.1" x2="295.90" y2="354.5"/><line x1="299.07" y1="314.1" x2="299.07" y2="354.5"/><line x1="302.24" y1="314.4" x2="302.24" y2="354.5"/><line x1="305.41" y1="313.7" x2="305.41" y2="354.5"/><line x1="308.58" y1="313.8" x2="308.58" y2="354.5"/><line x1="311.75" y1="313.8" x2="311.75" y2="354.5"/><line x1="314.92" y1="313.8" x2="314.92" y2="354.5"/><line x1="318.09" y1="313.3" x2="318.09" y2="354.5"/><line x1="321.26" y1="313.2" x2="321.26" y2="354.5"/><line x1="324.43" y1="313.0" x2="324.43" y2="354.5"/><line x1="327.60" y1="313.0" x2="327.60" y2="354.5"/><line x1="330.77" y1="312.9" x2="330.77" y2="354.5"/><line x1="333.94" y1="313.1" x2="333.94" y2="354.5"/><line x1="337.11" y1="312.9" x2="337.11" y2="354.5"/><line x1="340.28" y1="312.8" x2="340.28" y2="354.5"/><line x1="343.45" y1="312.2" x2="343.45" y2="354.5"/><line x1="346.62" y1="312.1" x2="346.62" y2="354.5"/><line x1="349.79" y1="312.3" x2="349.79" y2="354.5"/><line x1="352.96" y1="312.1" x2="352.96" y2="354.5"/><line x1="356.13" y1="311.5" x2="356.13" y2="354.5"/><line x1="359.30" y1="311.2" x2="359.30" y2="354.5"/><line x1="362.47" y1="310.5" x2="362.47" y2="354.5"/><line x1="365.64" y1="310.4" x2="365.64" y2="354.5"/><line x1="368.81" y1="310.5" x2="368.81" y2="354.5"/><line x1="371.98" y1="310.2" x2="371.98" y2="354.5"/><line x1="375.15" y1="310.0" x2="375.15" y2="354.5"/><line x1="378.32" y1="309.9" x2="378.32" y2="354.5"/><line x1="381.49" y1="309.2" x2="381.49" y2="354.5"/><line x1="384.66" y1="309.0" x2="384.66" y2="354.5"/><line x1="387.83" y1="308.8" x2="387.83" y2="354.5"/><line x1="391.00" y1="308.8" x2="391.00" y2="354.5"/><line x1="394.17" y1="308.7" x2="394.17" y2="354.5"/><line x1="397.34" y1="308.7" x2="397.34" y2="354.5"/><line x1="400.51" y1="308.3" x2="400.51" y2="354.5"/><line x1="403.68" y1="308.2" x2="403.68" y2="354.5"/><line x1="406.85" y1="308.4" x2="406.85" y2="354.5"/><line x1="410.02" y1="308.3" x2="410.02" y2="354.5"/><line x1="413.19" y1="308.5" x2="413.19" y2="354.5"/><line x1="416.36" y1="308.3" x2="416.36" y2="354.5"/><line x1="419.53" y1="308.9" x2="419.53" y2="354.5"/><line x1="422.70" y1="308.6" x2="422.70" y2="354.5"/><line x1="425.87" y1="309.2" x2="425.87" y2="354.5"/><line x1="429.04" y1="309.1" x2="429.04" y2="354.5"/><line x1="432.21" y1="309.0" x2="432.21" y2="354.5"/><line x1="435.38" y1="309.0" x2="435.38" y2="354.5"/><line x1="438.55" y1="309.2" x2="438.55" y2="354.5"/><line x1="441.72" y1="309.4" x2="441.72" y2="354.5"/><line x1="444.89" y1="309.2" x2="444.89" y2="354.5"/><line x1="448.06" y1="308.7" x2="448.06" y2="354.5"/><line x1="451.23" y1="308.4" x2="451.23" y2="354.5"/><line x1="454.40" y1="308.5" x2="454.40" y2="354.5"/><line x1="457.57" y1="308.3" x2="457.57" y2="354.5"/><line x1="460.74" y1="308.0" x2="460.74" y2="354.5"/><line x1="463.91" y1="307.8" x2="463.91" y2="354.5"/><line x1="467.08" y1="307.8" x2="467.08" y2="354.5"/><line x1="470.25" y1="307.3" x2="470.25" y2="354.5"/><line x1="473.42" y1="307.4" x2="473.42" y2="354.5"/><line x1="476.59" y1="307.3" x2="476.59" y2="354.5"/><line x1="479.76" y1="307.5" x2="479.76" y2="354.5"/><line x1="482.93" y1="307.2" x2="482.93" y2="354.5"/><line x1="486.10" y1="307.3" x2="486.10" y2="354.5"/><line x1="489.27" y1="306.9" x2="489.27" y2="354.5"/><line x1="492.44" y1="306.7" x2="492.44" y2="354.5"/><line x1="495.61" y1="306.6" x2="495.61" y2="354.5"/><line x1="498.78" y1="306.9" x2="498.78" y2="354.5"/><line x1="501.95" y1="306.7" x2="501.95" y2="354.5"/><line x1="505.12" y1="306.4" x2="505.12" y2="354.5"/><line x1="508.29" y1="306.1" x2="508.29" y2="354.5"/><line x1="511.46" y1="306.3" x2="511.46" y2="354.5"/><line x1="514.63" y1="306.3" x2="514.63" y2="354.5"/><line x1="517.80" y1="306.1" x2="517.80" y2="354.5"/><line x1="520.97" y1="306.0" x2="520.97" y2="354.5"/><line x1="524.14" y1="306.2" x2="524.14" y2="354.5"/><line x1="527.31" y1="306.4" x2="527.31" y2="354.5"/><line x1="530.48" y1="306.1" x2="530.48" y2="354.5"/><line x1="533.65" y1="306.1" x2="533.65" y2="354.5"/><line x1="536.82" y1="306.5" x2="536.82" y2="354.5"/><line x1="539.99" y1="306.7" x2="539.99" y2="354.5"/><line x1="543.16" y1="307.0" x2="543.16" y2="354.5"/><line x1="546.33" y1="306.8" x2="546.33" y2="354.5"/><line x1="549.50" y1="307.3" x2="549.50" y2="354.5"/><line x1="552.67" y1="307.5" x2="552.67" y2="354.5"/><line x1="555.84" y1="307.5" x2="555.84" y2="354.5"/><line x1="559.01" y1="307.4" x2="559.01" y2="354.5"/><line x1="562.18" y1="308.0" x2="562.18" y2="354.5"/><line x1="565.35" y1="307.7" x2="565.35" y2="354.5"/><line x1="568.52" y1="308.1" x2="568.52" y2="354.5"/><line x1="571.69" y1="307.9" x2="571.69" y2="354.5"/><line x1="574.86" y1="307.9" x2="574.86" y2="354.5"/><line x1="578.03" y1="308.0" x2="578.03" y2="354.5"/><line x1="581.20" y1="307.6" x2="581.20" y2="354.5"/><line x1="584.37" y1="307.8" x2="584.37" y2="354.5"/><line x1="587.54" y1="307.5" x2="587.54" y2="354.5"/><line x1="590.71" y1="307.5" x2="590.71" y2="354.5"/><line x1="593.88" y1="307.8" x2="593.88" y2="354.5"/><line x1="597.05" y1="308.1" x2="597.05" y2="354.5"/><line x1="600.22" y1="308.4" x2="600.22" y2="354.5"/><line x1="603.39" y1="308.7" x2="603.39" y2="354.5"/><line x1="606.56" y1="308.4" x2="606.56" y2="354.5"/><line x1="609.73" y1="308.7" x2="609.73" y2="354.5"/><line x1="612.90" y1="308.8" x2="612.90" y2="354.5"/><line x1="616.07" y1="309.4" x2="616.07" y2="354.5"/><line x1="619.24" y1="309.1" x2="619.24" y2="354.5"/><line x1="622.41" y1="309.2" x2="622.41" y2="354.5"/><line x1="625.58" y1="309.3" x2="625.58" y2="354.5"/><line x1="628.75" y1="309.6" x2="628.75" y2="354.5"/><line x1="631.92" y1="310.0" x2="631.92" y2="354.5"/><line x1="635.09" y1="310.1" x2="635.09" y2="354.5"/><line x1="638.26" y1="310.1" x2="638.26" y2="354.5"/><line x1="641.43" y1="310.4" x2="641.43" y2="354.5"/><line x1="644.60" y1="310.5" x2="644.60" y2="354.5"/><line x1="647.77" y1="310.2" x2="647.77" y2="354.5"/><line x1="650.94" y1="310.2" x2="650.94" y2="354.5"/><line x1="654.11" y1="310.8" x2="654.11" y2="354.5"/><line x1="657.28" y1="310.5" x2="657.28" y2="354.5"/><line x1="660.45" y1="309.6" x2="660.45" y2="354.5"/><line x1="663.62" y1="309.5" x2="663.62" y2="354.5"/><line x1="666.79" y1="309.8" x2="666.79" y2="354.5"/><line x1="669.96" y1="310.1" x2="669.96" y2="354.5"/><line x1="673.13" y1="310.2" x2="673.13" y2="354.5"/><line x1="676.30" y1="310.1" x2="676.30" y2="354.5"/><line x1="679.47" y1="310.0" x2="679.47" y2="354.5"/><line x1="682.64" y1="310.2" x2="682.64" y2="354.5"/><line x1="685.81" y1="310.2" x2="685.81" y2="354.5"/><line x1="688.98" y1="310.6" x2="688.98" y2="354.5"/><line x1="692.15" y1="310.1" x2="692.15" y2="354.5"/><line x1="695.32" y1="310.6" x2="695.32" y2="354.5"/><line x1="698.49" y1="310.1" x2="698.49" y2="354.5"/><line x1="701.66" y1="310.2" x2="701.66" y2="354.5"/><line x1="704.83" y1="310.5" x2="704.83" y2="354.5"/><line x1="708.00" y1="310.5" x2="708.00" y2="354.5"/><line x1="711.17" y1="310.3" x2="711.17" y2="354.5"/><line x1="714.34" y1="310.0" x2="714.34" y2="354.5"/><line x1="717.51" y1="310.3" x2="717.51" y2="354.5"/><line x1="720.68" y1="310.2" x2="720.68" y2="354.5"/><line x1="723.85" y1="310.5" x2="723.85" y2="354.5"/><line x1="727.02" y1="309.9" x2="727.02" y2="354.5"/><line x1="730.19" y1="309.8" x2="730.19" y2="354.5"/><line x1="733.36" y1="309.9" x2="733.36" y2="354.5"/><line x1="736.53" y1="309.2" x2="736.53" y2="354.5"/><line x1="739.70" y1="309.3" x2="739.70" y2="354.5"/><line x1="742.87" y1="309.5" x2="742.87" y2="354.5"/><line x1="746.04" y1="309.5" x2="746.04" y2="354.5"/><line x1="749.21" y1="309.0" x2="749.21" y2="354.5"/><line x1="752.38" y1="309.0" x2="752.38" y2="354.5"/><line x1="755.55" y1="309.0" x2="755.55" y2="354.5"/><line x1="758.72" y1="309.6" x2="758.72" y2="354.5"/><line x1="761.89" y1="309.6" x2="761.89" y2="354.5"/><line x1="765.06" y1="309.8" x2="765.06" y2="354.5"/><line x1="768.23" y1="309.8" x2="768.23" y2="354.5"/><line x1="771.40" y1="309.3" x2="771.40" y2="354.5"/><line x1="774.57" y1="309.1" x2="774.57" y2="354.5"/><line x1="777.74" y1="309.4" x2="777.74" y2="354.5"/><line x1="780.91" y1="309.1" x2="780.91" y2="354.5"/><line x1="784.08" y1="308.7" x2="784.08" y2="354.5"/><line x1="787.25" y1="308.8" x2="787.25" y2="354.5"/><line x1="790.42" y1="308.5" x2="790.42" y2="354.5"/><line x1="793.59" y1="308.3" x2="793.59" y2="354.5"/><line x1="796.76" y1="308.0" x2="796.76" y2="354.5"/><line x1="799.93" y1="308.3" x2="799.93" y2="354.5"/><line x1="803.10" y1="308.2" x2="803.10" y2="354.5"/><line x1="806.27" y1="307.9" x2="806.27" y2="354.5"/><line x1="809.44" y1="307.9" x2="809.44" y2="354.5"/><line x1="812.61" y1="307.1" x2="812.61" y2="354.5"/><line x1="815.78" y1="307.1" x2="815.78" y2="354.5"/><line x1="818.95" y1="307.1" x2="818.95" y2="354.5"/><line x1="822.12" y1="307.2" x2="822.12" y2="354.5"/><line x1="825.29" y1="307.0" x2="825.29" y2="354.5"/><line x1="828.46" y1="306.5" x2="828.46" y2="354.5"/><line x1="831.63" y1="306.3" x2="831.63" y2="354.5"/><line x1="834.80" y1="306.2" x2="834.80" y2="354.5"/><line x1="837.97" y1="306.0" x2="837.97" y2="354.5"/><line x1="841.14" y1="306.0" x2="841.14" y2="354.5"/><line x1="844.31" y1="305.3" x2="844.31" y2="354.5"/><line x1="847.48" y1="305.4" x2="847.48" y2="354.5"/><line x1="850.65" y1="305.1" x2="850.65" y2="354.5"/><line x1="853.82" y1="304.9" x2="853.82" y2="354.5"/><line x1="856.99" y1="304.7" x2="856.99" y2="354.5"/><line x1="860.16" y1="304.3" x2="860.16" y2="354.5"/><line x1="863.33" y1="303.9" x2="863.33" y2="354.5"/><line x1="866.50" y1="303.6" x2="866.50" y2="354.5"/><line x1="869.67" y1="303.4" x2="869.67" y2="354.5"/><line x1="872.84" y1="303.5" x2="872.84" y2="354.5"/><line x1="876.01" y1="302.9" x2="876.01" y2="354.5"/><line x1="879.18" y1="302.7" x2="879.18" y2="354.5"/><line x1="882.35" y1="302.9" x2="882.35" y2="354.5"/><line x1="885.52" y1="302.4" x2="885.52" y2="354.5"/><line x1="888.69" y1="302.1" x2="888.69" y2="354.5"/><line x1="891.86" y1="301.9" x2="891.86" y2="354.5"/><line x1="895.03" y1="302.0" x2="895.03" y2="354.5"/><line x1="898.20" y1="301.8" x2="898.20" y2="354.5"/><line x1="901.37" y1="302.1" x2="901.37" y2="354.5"/><line x1="904.54" y1="302.0" x2="904.54" y2="354.5"/><line x1="907.71" y1="302.0" x2="907.71" y2="354.5"/><line x1="910.88" y1="301.6" x2="910.88" y2="354.5"/><line x1="914.05" y1="301.4" x2="914.05" y2="354.5"/><line x1="917.22" y1="301.4" x2="917.22" y2="354.5"/><line x1="920.39" y1="301.6" x2="920.39" y2="354.5"/><line x1="923.56" y1="301.7" x2="923.56" y2="354.5"/><line x1="926.73" y1="301.5" x2="926.73" y2="354.5"/></g></g></g>
<rect x="921" y="302.6" width="5" height="3.6" fill="#fff" fill-opacity="0.85"/><line x1="921" y1="302.5" x2="926" y2="302.5" stroke="#efefef" stroke-width="1"/>
<!-- fills -->
<path d="M129.6,261.0 C130.5,260.7 135.6,258.5 137.5,258.1 C139.4,257.7 144.5,257.8 146.0,257.9 C147.5,258.0 149.2,258.8 150.3,259.0 C151.4,259.2 154.4,259.5 155.4,259.4 C156.4,259.3 157.4,259.1 158.8,258.2 C160.2,257.3 165.6,252.5 167.4,251.3 C169.2,250.1 173.0,249.3 174.3,248.2 C175.6,247.1 177.5,243.1 178.5,242.2 C179.5,241.3 181.7,240.9 182.8,240.7 C183.9,240.5 187.0,240.6 188.0,240.7 C189.0,240.8 190.3,242.0 191.0,241.9 C191.7,241.8 192.9,240.4 194.0,240.0 C195.1,239.6 198.7,238.9 200.0,238.8 C201.3,238.7 203.4,238.7 205.0,238.8 C206.6,238.9 211.9,239.7 213.7,239.7 C215.5,239.7 219.1,239.3 220.5,239.0 C221.9,238.7 224.5,237.8 225.7,237.3 C226.9,236.8 229.6,235.0 230.8,234.5 C232.0,234.0 234.8,233.8 236.0,232.8 C237.2,231.8 239.8,227.3 241.0,226.3 C242.2,225.3 245.0,224.7 246.2,223.9 C247.4,223.1 250.0,219.7 251.0,219.5 C252.0,219.3 253.3,222.3 254.4,222.0 C255.5,221.7 258.4,217.8 260.0,216.9 C261.6,216.0 266.7,214.8 268.5,214.5 C270.3,214.2 273.7,214.4 275.3,214.0 C276.9,213.6 280.6,212.0 282.2,211.4 C283.8,210.8 287.6,209.2 289.0,208.8 C290.4,208.4 292.8,208.1 294.2,207.8 C295.6,207.5 299.1,206.8 300.7,206.3 C302.3,205.8 307.0,204.2 308.2,203.5 C309.4,202.8 310.7,200.6 311.4,200.3 C312.1,200.0 313.4,201.0 314.6,200.7 C315.8,200.4 320.2,198.3 322.1,197.5 C324.0,196.7 328.9,194.2 330.7,193.5 C332.4,192.8 336.0,192.3 337.1,191.7 C338.2,191.1 339.6,189.5 340.3,188.5 C341.0,187.5 341.9,183.6 342.9,183.2 C343.9,182.8 347.5,185.1 348.9,184.7 C350.3,184.3 353.7,180.5 355.3,180.0 C356.9,179.5 360.9,181.0 362.8,180.4 C364.7,179.8 369.3,176.5 371.4,174.6 C373.5,172.7 379.4,166.4 381.0,164.5 C382.6,162.6 384.4,159.1 385.3,157.9 C386.2,156.7 387.9,154.7 388.5,154.3 C389.1,153.9 390.0,154.9 390.7,154.3 C391.4,153.7 393.2,150.1 394.3,148.9 C395.4,147.7 398.9,144.9 400.3,144.0 C401.7,143.1 405.2,142.1 406.7,141.4 C408.2,140.7 411.3,138.3 413.2,138.2 C415.1,138.1 420.8,140.8 422.8,140.6 C424.8,140.4 428.6,137.5 430.3,136.7 C432.1,135.9 436.3,133.9 437.8,133.5 C439.3,133.1 442.1,133.4 443.1,132.9 C444.1,132.4 445.4,130.0 446.3,129.0 C447.2,128.0 449.7,126.0 450.6,124.3 C451.5,122.6 453.3,116.5 454.1,114.8 C454.9,113.1 456.6,110.4 457.7,109.4 C458.8,108.4 462.5,107.3 463.6,106.6 C464.7,105.9 466.4,104.7 467.1,103.0 C467.8,101.3 468.8,93.8 469.5,91.7 C470.2,89.6 472.0,85.7 473.0,84.7 C474.0,83.7 476.6,83.5 477.7,83.0 C478.8,82.5 480.8,81.5 482.4,80.7 C484.0,79.9 490.0,77.8 491.8,76.4 C493.6,75.0 496.0,70.5 497.7,68.9 C499.4,67.3 504.5,63.3 506.0,62.3 C507.5,61.3 509.3,60.8 510.7,60.2 C512.1,59.6 516.6,58.0 517.8,57.1 C519.0,56.2 520.5,53.7 521.3,52.4 C522.1,51.1 523.4,46.9 524.4,46.0 C525.4,45.1 528.5,45.3 529.5,45.1 C530.5,44.9 532.3,44.5 533.1,44.1 C533.9,43.7 535.8,41.4 536.6,41.3 C537.4,41.2 539.3,42.4 540.1,43.0 C540.9,43.6 542.9,45.9 543.7,46.5 C544.5,47.1 546.5,48.3 547.2,48.4 C547.9,48.5 548.6,46.8 549.6,47.0 C550.6,47.2 554.4,49.5 555.5,50.0 C556.6,50.5 558.2,50.7 559.0,51.2 C559.8,51.7 561.8,53.9 562.5,54.3 C563.2,54.7 563.9,55.5 564.9,54.7 C565.9,53.9 570.0,48.1 571.5,47.7 C573.0,47.3 576.5,51.3 577.8,51.2 C579.1,51.1 581.5,47.1 582.6,46.5 C583.7,45.9 586.0,45.8 587.3,45.8 C588.6,45.8 592.6,46.4 593.9,46.4 C595.2,46.4 597.6,45.5 598.7,45.4 C599.8,45.3 602.1,45.4 603.1,45.8 C604.1,46.2 606.1,47.9 607.3,48.7 C608.5,49.5 611.5,51.8 613.1,52.6 C614.7,53.4 619.3,55.1 620.8,55.6 C622.3,56.1 624.7,56.6 625.7,57.0 C626.7,57.4 628.0,58.5 629.5,58.9 C631.0,59.3 636.1,60.1 638.2,60.3 C640.3,60.5 646.1,60.6 647.8,60.8 C649.5,61.0 651.5,61.9 652.7,62.4 C653.9,62.9 657.2,64.5 658.4,64.9 C659.6,65.3 662.3,66.1 663.3,65.7 C664.3,65.3 666.0,62.1 667.1,61.4 C668.2,60.7 671.4,60.5 672.9,59.9 C674.4,59.3 678.4,56.2 679.6,56.0 C680.8,55.8 682.3,57.5 683.5,58.0 C684.7,58.5 688.6,59.3 690.2,59.9 C691.8,60.5 695.2,62.5 697.0,63.2 C698.8,63.9 703.8,65.2 705.7,65.7 C707.6,66.2 711.3,67.4 713.4,67.6 C715.5,67.8 722.4,66.8 724.0,67.6 C725.6,68.4 726.4,73.3 727.3,74.7 C728.2,76.1 730.8,78.4 731.7,79.7 C732.6,81.0 734.0,84.4 734.6,85.9 C735.2,87.4 736.3,91.6 736.9,92.7 C737.5,93.8 739.3,94.2 740.0,95.2 C740.7,96.2 742.5,99.7 743.3,101.1 C744.1,102.5 745.9,106.8 747.0,107.5 C748.1,108.2 751.0,106.7 752.5,106.7 C754.0,106.7 758.2,107.8 759.5,107.8 C760.8,107.8 762.4,106.9 763.7,106.7 C765.0,106.5 769.2,105.9 770.6,106.1 C772.0,106.3 774.6,107.2 775.6,108.1 C776.6,109.0 778.3,112.1 779.0,113.7 C779.7,115.3 781.1,120.0 781.7,122.0 C782.3,124.0 783.2,129.4 784.5,131.2 C785.8,133.0 791.6,135.8 792.9,137.3 C794.2,138.8 795.0,142.6 795.6,144.3 C796.2,146.0 797.6,150.6 798.4,151.8 C799.2,153.0 801.6,154.0 802.6,154.6 C803.6,155.2 805.5,155.7 806.8,156.8 C808.1,157.9 811.8,161.8 813.7,163.7 C815.6,165.6 821.7,171.8 823.5,173.5 C825.3,175.2 827.5,176.6 829.0,178.2 C830.5,179.8 834.9,186.1 836.0,187.4 C837.1,188.7 837.7,188.0 838.8,189.3 C839.9,190.6 844.2,196.9 845.7,198.5 C847.2,200.1 850.2,201.6 851.3,202.7 C852.4,203.8 854.1,207.1 854.9,207.7 C855.7,208.3 857.4,207.9 858.3,207.7 C859.2,207.5 861.2,206.4 862.4,206.0 C863.6,205.6 867.3,204.9 868.6,204.5 C869.9,204.1 872.7,203.1 873.7,202.8 C874.7,202.5 876.4,202.6 877.1,202.3 C877.8,202.0 879.1,200.2 879.7,200.0 C880.3,199.8 881.7,201.1 882.6,200.5 C883.5,199.9 886.2,195.8 887.4,194.6 C888.6,193.4 891.3,190.7 892.6,190.3 C893.9,189.9 897.2,191.1 898.6,190.8 C900.0,190.5 903.1,188.7 904.6,188.0 C906.1,187.3 909.8,185.7 911.4,185.1 C913.0,184.5 917.1,183.2 918.3,182.6 C919.5,182.0 920.9,180.6 921.7,180.0 C922.5,179.4 924.7,177.4 925.1,177.1 L925.1,260.5 L129.6,260.5 Z" fill="url(#gg)"/>
<path d="M9.5,261.0 C13.1,262.5 35.5,272.4 40.0,274.0 C44.5,275.6 46.3,274.9 48.0,275.0 C49.7,275.1 52.9,274.6 54.4,274.6 C55.9,274.6 59.5,275.1 61.0,275.0 C62.5,274.9 66.0,273.7 67.6,273.8 C69.2,273.9 73.5,275.5 75.0,275.5 C76.5,275.5 79.5,274.5 80.8,273.8 C82.1,273.1 84.4,270.3 85.8,269.7 C87.2,269.1 90.7,268.5 92.4,268.4 C94.1,268.3 98.9,269.3 100.6,269.2 C102.3,269.1 105.5,267.9 107.2,267.2 C108.9,266.5 113.8,263.9 115.5,263.6 C117.2,263.3 120.6,264.9 121.7,265.0 C122.8,265.1 123.8,265.1 124.7,264.6 C125.6,264.1 129.0,261.4 129.6,261.0 Z" fill="url(#rg)"/>
<!-- baseline -->
<line x1="8" y1="261.5" x2="926" y2="261.5" stroke="#7a7d82" stroke-width="1" stroke-dasharray="1 3"/>
<path d="M9.5,261.0 C13.1,262.5 35.5,272.4 40.0,274.0 C44.5,275.6 46.3,274.9 48.0,275.0 C49.7,275.1 52.9,274.6 54.4,274.6 C55.9,274.6 59.5,275.1 61.0,275.0 C62.5,274.9 66.0,273.7 67.6,273.8 C69.2,273.9 73.5,275.5 75.0,275.5 C76.5,275.5 79.5,274.5 80.8,273.8 C82.1,273.1 84.4,270.3 85.8,269.7 C87.2,269.1 90.7,268.5 92.4,268.4 C94.1,268.3 98.9,269.3 100.6,269.2 C102.3,269.1 105.5,267.9 107.2,267.2 C108.9,266.5 113.8,263.9 115.5,263.6 C117.2,263.3 120.6,264.9 121.7,265.0 C122.8,265.1 123.8,265.1 124.7,264.6 C125.6,264.1 129.0,261.4 129.6,261.0" fill="none" stroke="#ea3943" stroke-width="2" stroke-linejoin="round" stroke-linecap="round"/>
<path d="M129.6,261.0 C130.5,260.7 135.6,258.5 137.5,258.1 C139.4,257.7 144.5,257.8 146.0,257.9 C147.5,258.0 149.2,258.8 150.3,259.0 C151.4,259.2 154.4,259.5 155.4,259.4 C156.4,259.3 157.4,259.1 158.8,258.2 C160.2,257.3 165.6,252.5 167.4,251.3 C169.2,250.1 173.0,249.3 174.3,248.2 C175.6,247.1 177.5,243.1 178.5,242.2 C179.5,241.3 181.7,240.9 182.8,240.7 C183.9,240.5 187.0,240.6 188.0,240.7 C189.0,240.8 190.3,242.0 191.0,241.9 C191.7,241.8 192.9,240.4 194.0,240.0 C195.1,239.6 198.7,238.9 200.0,238.8 C201.3,238.7 203.4,238.7 205.0,238.8 C206.6,238.9 211.9,239.7 213.7,239.7 C215.5,239.7 219.1,239.3 220.5,239.0 C221.9,238.7 224.5,237.8 225.7,237.3 C226.9,236.8 229.6,235.0 230.8,234.5 C232.0,234.0 234.8,233.8 236.0,232.8 C237.2,231.8 239.8,227.3 241.0,226.3 C242.2,225.3 245.0,224.7 246.2,223.9 C247.4,223.1 250.0,219.7 251.0,219.5 C252.0,219.3 253.3,222.3 254.4,222.0 C255.5,221.7 258.4,217.8 260.0,216.9 C261.6,216.0 266.7,214.8 268.5,214.5 C270.3,214.2 273.7,214.4 275.3,214.0 C276.9,213.6 280.6,212.0 282.2,211.4 C283.8,210.8 287.6,209.2 289.0,208.8 C290.4,208.4 292.8,208.1 294.2,207.8 C295.6,207.5 299.1,206.8 300.7,206.3 C302.3,205.8 307.0,204.2 308.2,203.5 C309.4,202.8 310.7,200.6 311.4,200.3 C312.1,200.0 313.4,201.0 314.6,200.7 C315.8,200.4 320.2,198.3 322.1,197.5 C324.0,196.7 328.9,194.2 330.7,193.5 C332.4,192.8 336.0,192.3 337.1,191.7 C338.2,191.1 339.6,189.5 340.3,188.5 C341.0,187.5 341.9,183.6 342.9,183.2 C343.9,182.8 347.5,185.1 348.9,184.7 C350.3,184.3 353.7,180.5 355.3,180.0 C356.9,179.5 360.9,181.0 362.8,180.4 C364.7,179.8 369.3,176.5 371.4,174.6 C373.5,172.7 379.4,166.4 381.0,164.5 C382.6,162.6 384.4,159.1 385.3,157.9 C386.2,156.7 387.9,154.7 388.5,154.3 C389.1,153.9 390.0,154.9 390.7,154.3 C391.4,153.7 393.2,150.1 394.3,148.9 C395.4,147.7 398.9,144.9 400.3,144.0 C401.7,143.1 405.2,142.1 406.7,141.4 C408.2,140.7 411.3,138.3 413.2,138.2 C415.1,138.1 420.8,140.8 422.8,140.6 C424.8,140.4 428.6,137.5 430.3,136.7 C432.1,135.9 436.3,133.9 437.8,133.5 C439.3,133.1 442.1,133.4 443.1,132.9 C444.1,132.4 445.4,130.0 446.3,129.0 C447.2,128.0 449.7,126.0 450.6,124.3 C451.5,122.6 453.3,116.5 454.1,114.8 C454.9,113.1 456.6,110.4 457.7,109.4 C458.8,108.4 462.5,107.3 463.6,106.6 C464.7,105.9 466.4,104.7 467.1,103.0 C467.8,101.3 468.8,93.8 469.5,91.7 C470.2,89.6 472.0,85.7 473.0,84.7 C474.0,83.7 476.6,83.5 477.7,83.0 C478.8,82.5 480.8,81.5 482.4,80.7 C484.0,79.9 490.0,77.8 491.8,76.4 C493.6,75.0 496.0,70.5 497.7,68.9 C499.4,67.3 504.5,63.3 506.0,62.3 C507.5,61.3 509.3,60.8 510.7,60.2 C512.1,59.6 516.6,58.0 517.8,57.1 C519.0,56.2 520.5,53.7 521.3,52.4 C522.1,51.1 523.4,46.9 524.4,46.0 C525.4,45.1 528.5,45.3 529.5,45.1 C530.5,44.9 532.3,44.5 533.1,44.1 C533.9,43.7 535.8,41.4 536.6,41.3 C537.4,41.2 539.3,42.4 540.1,43.0 C540.9,43.6 542.9,45.9 543.7,46.5 C544.5,47.1 546.5,48.3 547.2,48.4 C547.9,48.5 548.6,46.8 549.6,47.0 C550.6,47.2 554.4,49.5 555.5,50.0 C556.6,50.5 558.2,50.7 559.0,51.2 C559.8,51.7 561.8,53.9 562.5,54.3 C563.2,54.7 563.9,55.5 564.9,54.7 C565.9,53.9 570.0,48.1 571.5,47.7 C573.0,47.3 576.5,51.3 577.8,51.2 C579.1,51.1 581.5,47.1 582.6,46.5 C583.7,45.9 586.0,45.8 587.3,45.8 C588.6,45.8 592.6,46.4 593.9,46.4 C595.2,46.4 597.6,45.5 598.7,45.4 C599.8,45.3 602.1,45.4 603.1,45.8 C604.1,46.2 606.1,47.9 607.3,48.7 C608.5,49.5 611.5,51.8 613.1,52.6 C614.7,53.4 619.3,55.1 620.8,55.6 C622.3,56.1 624.7,56.6 625.7,57.0 C626.7,57.4 628.0,58.5 629.5,58.9 C631.0,59.3 636.1,60.1 638.2,60.3 C640.3,60.5 646.1,60.6 647.8,60.8 C649.5,61.0 651.5,61.9 652.7,62.4 C653.9,62.9 657.2,64.5 658.4,64.9 C659.6,65.3 662.3,66.1 663.3,65.7 C664.3,65.3 666.0,62.1 667.1,61.4 C668.2,60.7 671.4,60.5 672.9,59.9 C674.4,59.3 678.4,56.2 679.6,56.0 C680.8,55.8 682.3,57.5 683.5,58.0 C684.7,58.5 688.6,59.3 690.2,59.9 C691.8,60.5 695.2,62.5 697.0,63.2 C698.8,63.9 703.8,65.2 705.7,65.7 C707.6,66.2 711.3,67.4 713.4,67.6 C715.5,67.8 722.4,66.8 724.0,67.6 C725.6,68.4 726.4,73.3 727.3,74.7 C728.2,76.1 730.8,78.4 731.7,79.7 C732.6,81.0 734.0,84.4 734.6,85.9 C735.2,87.4 736.3,91.6 736.9,92.7 C737.5,93.8 739.3,94.2 740.0,95.2 C740.7,96.2 742.5,99.7 743.3,101.1 C744.1,102.5 745.9,106.8 747.0,107.5 C748.1,108.2 751.0,106.7 752.5,106.7 C754.0,106.7 758.2,107.8 759.5,107.8 C760.8,107.8 762.4,106.9 763.7,106.7 C765.0,106.5 769.2,105.9 770.6,106.1 C772.0,106.3 774.6,107.2 775.6,108.1 C776.6,109.0 778.3,112.1 779.0,113.7 C779.7,115.3 781.1,120.0 781.7,122.0 C782.3,124.0 783.2,129.4 784.5,131.2 C785.8,133.0 791.6,135.8 792.9,137.3 C794.2,138.8 795.0,142.6 795.6,144.3 C796.2,146.0 797.6,150.6 798.4,151.8 C799.2,153.0 801.6,154.0 802.6,154.6 C803.6,155.2 805.5,155.7 806.8,156.8 C808.1,157.9 811.8,161.8 813.7,163.7 C815.6,165.6 821.7,171.8 823.5,173.5 C825.3,175.2 827.5,176.6 829.0,178.2 C830.5,179.8 834.9,186.1 836.0,187.4 C837.1,188.7 837.7,188.0 838.8,189.3 C839.9,190.6 844.2,196.9 845.7,198.5 C847.2,200.1 850.2,201.6 851.3,202.7 C852.4,203.8 854.1,207.1 854.9,207.7 C855.7,208.3 857.4,207.9 858.3,207.7 C859.2,207.5 861.2,206.4 862.4,206.0 C863.6,205.6 867.3,204.9 868.6,204.5 C869.9,204.1 872.7,203.1 873.7,202.8 C874.7,202.5 876.4,202.6 877.1,202.3 C877.8,202.0 879.1,200.2 879.7,200.0 C880.3,199.8 881.7,201.1 882.6,200.5 C883.5,199.9 886.2,195.8 887.4,194.6 C888.6,193.4 891.3,190.7 892.6,190.3 C893.9,189.9 897.2,191.1 898.6,190.8 C900.0,190.5 903.1,188.7 904.6,188.0 C906.1,187.3 909.8,185.7 911.4,185.1 C913.0,184.5 917.1,183.2 918.3,182.6 C919.5,182.0 920.9,180.6 921.7,180.0 C922.5,179.4 924.7,177.4 925.1,177.1" fill="none" stroke="#16c784" stroke-width="2" stroke-linejoin="round" stroke-linecap="round"/>
<!-- left label box -->
<rect x="8" y="251" width="40.7" height="22.5" rx="4" fill="#fff" fill-opacity="0.88"/>
<polygon points="8.6,261.2 10.4,258.4 11.6,260.6" fill="#16c784"/>
<text x="15.1" y="265.6" font-size="11.8" fill="#58667e" stroke="#58667e" stroke-width="0.4">3,350</text>
<!-- y labels -->
<g font-size="11.8" fill="#808a9d" stroke="#808a9d" stroke-width="0.32"><text x="932.5" y="54">3,475</text><text x="932.5" y="96">3,450</text><text x="932.5" y="138">3,425</text><text x="932.5" y="222">3,375</text><text x="932.5" y="264">3,350</text><text x="932.5" y="306">3,325</text></g>
<rect x="926" y="165" width="44" height="26" rx="4" fill="#16c784"/>
<text x="932.3" y="182" font-size="12" fill="#fff" font-weight="bold">3,399</text>
<text x="940" y="349.5" font-size="12" fill="#808a9d" stroke="#808a9d" stroke-width="0.2" font-weight="bold">USD</text>
<!-- x labels -->
<g font-size="11.5" fill="#808a9d" text-anchor="middle" stroke="#808a9d" stroke-width="0.15"><text x="137" y="379.6">3:00 PM</text><text x="251.2" y="379.6">6:00 PM</text><text x="365.3" y="379.6">9:00 PM</text><text x="479.9" y="379.6">16 Jul</text><text x="670.5" y="379.6">5:00 AM</text><text x="784.7" y="379.6">8:00 AM</text><text x="899.2" y="379.6">11:00 AM</text></g>
<!-- navigator -->
<line x1="8" y1="404.5" x2="925.4" y2="404.5" stroke="#efefef" stroke-width="1"/>
<g stroke="#efefef" stroke-width="1"><line x1="71.3" y1="405" x2="71.3" y2="444.5"/><line x1="143.2" y1="405" x2="143.2" y2="444.5"/><line x1="212.5" y1="405" x2="212.5" y2="444.5"/><line x1="284.5" y1="405" x2="284.5" y2="444.5"/><line x1="354.3" y1="405" x2="354.3" y2="444.5"/><line x1="424.9" y1="405" x2="424.9" y2="444.5"/><line x1="495.5" y1="405" x2="495.5" y2="444.5"/><line x1="566.8" y1="405" x2="566.8" y2="444.5"/><line x1="637.4" y1="405" x2="637.4" y2="444.5"/><line x1="707.3" y1="405" x2="707.3" y2="444.5"/><line x1="777.2" y1="405" x2="777.2" y2="444.5"/><line x1="849.2" y1="405" x2="849.2" y2="444.5"/><line x1="919.6" y1="405" x2="919.6" y2="444.5"/></g>
<polygon points="8.2,444.5 8.2,434.6 10.2,437.1 11.7,435.9 13.2,435.0 15.7,438.3 17.1,437.8 18.4,437.9 19.8,437.6 21.1,437.6 22.4,438.1 23.8,438.2 25.1,438.3 26.4,438.8 27.7,439.1 29.0,439.2 30.4,439.7 31.7,439.8 33.0,440.4 34.6,440.7 36.3,441.4 37.9,442.0 39.2,441.8 40.5,441.1 41.9,440.7 43.2,440.5 44.5,440.1 45.8,440.1 47.1,439.6 48.5,439.3 49.8,439.3 51.1,438.8 52.4,438.7 53.7,439.3 55.1,439.2 56.4,439.2 57.7,439.6 59.2,439.5 60.6,439.7 62.0,440.1 63.5,439.8 65.0,440.1 66.4,440.3 67.8,440.2 69.3,440.4 70.6,440.5 71.9,440.3 73.3,440.4 74.6,440.6 75.9,440.9 77.2,440.8 78.5,440.9 79.9,441.1 81.2,441.1 82.5,441.2 83.9,441.3 85.2,441.7 86.6,441.8 88.0,441.8 89.4,442.1 90.8,442.2 92.1,442.5 93.5,442.6 94.9,442.6 96.2,443.0 97.6,442.9 99.0,443.2 100.4,443.2 101.8,443.4 103.1,443.2 104.5,443.4 105.9,443.3 107.2,443.5 108.6,443.6 110.0,443.6 111.4,443.7 112.8,443.6 114.1,443.7 115.5,443.7 116.9,443.8 118.2,443.8 119.6,443.8 121.0,444.0 122.4,444.0 123.8,443.9 125.1,444.0 126.5,443.9 127.9,444.1 129.2,444.2 130.6,444.3 132.0,444.2 133.4,444.3 134.8,444.1 136.1,444.1 137.5,444.1 138.9,443.9 140.2,444.0 141.6,443.9 143.0,443.9 144.4,443.8 145.8,444.0 147.1,443.8 148.5,443.9 149.9,443.8 151.4,443.9 152.8,444.0 154.2,443.8 155.7,443.9 157.1,443.9 158.6,444.0 160.0,443.9 161.3,444.0 162.7,444.0 164.0,443.8 165.3,443.8 166.7,443.8 168.0,443.9 169.3,443.9 170.7,443.7 172.0,443.7 173.3,443.7 174.7,443.7 176.0,443.7 177.3,443.8 178.7,443.6 180.0,443.5 181.3,443.7 182.7,443.6 184.0,443.7 185.3,443.8 186.7,443.7 188.0,443.6 189.3,443.6 190.7,443.7 192.0,443.4 193.3,443.7 194.7,443.6 196.0,443.7 197.3,443.6 198.7,443.5 200.0,443.5 201.4,443.3 202.9,443.0 204.3,443.0 205.7,442.6 207.1,442.4 208.6,442.3 210.0,442.2 211.4,442.1 212.9,442.2 214.3,442.1 215.7,442.2 217.1,442.3 218.6,442.3 220.0,442.5 221.3,442.5 222.7,442.5 224.0,442.8 225.3,442.8 226.7,442.7 228.0,442.8 229.3,442.9 230.7,443.0 232.0,443.0 233.3,443.3 234.7,443.4 236.0,443.3 237.3,443.4 238.7,443.3 240.0,443.5 241.3,443.4 242.6,443.4 243.9,443.4 245.2,443.5 246.5,443.3 247.8,443.2 249.1,443.5 250.4,443.4 251.7,443.2 253.0,443.4 254.3,443.2 255.7,443.3 257.0,443.5 258.3,443.4 259.6,443.3 260.9,443.2 262.2,443.2 263.5,443.1 264.8,443.3 266.1,443.2 267.4,443.3 268.7,443.1 270.0,443.1 271.3,443.2 272.6,443.3 273.9,443.2 275.2,443.2 276.5,443.2 277.8,443.1 279.1,442.9 280.4,443.0 281.7,443.0 283.0,442.8 284.3,442.8 285.7,442.9 287.0,442.9 288.3,443.0 289.6,443.1 290.9,442.9 292.2,443.1 293.5,443.1 294.8,443.0 296.1,442.8 297.4,442.7 298.7,442.7 300.0,442.8 301.4,442.7 302.9,442.8 304.3,443.0 305.7,443.2 307.1,443.2 308.6,443.1 310.0,443.2 311.4,443.3 312.9,443.4 314.3,443.3 315.7,443.5 317.1,443.7 318.6,443.7 320.0,443.7 321.3,443.8 322.6,443.7 324.0,443.5 325.3,443.7 326.6,443.5 327.9,443.7 329.2,443.7 330.6,443.5 331.9,443.5 333.2,443.6 334.5,443.6 335.8,443.4 337.2,443.3 338.5,443.3 339.8,443.5 341.1,443.5 342.4,443.2 343.8,443.5 345.1,443.5 346.4,443.4 347.7,443.2 349.0,443.3 350.4,443.1 351.7,443.1 353.0,443.2 354.4,443.2 355.8,443.0 357.1,442.8 358.5,442.8 359.9,442.5 361.2,442.5 362.6,442.4 364.0,442.0 365.4,441.9 366.8,441.8 368.1,441.6 369.5,441.6 370.9,441.7 372.2,441.5 373.6,441.6 375.0,441.5 376.4,441.9 377.7,441.7 379.1,441.7 380.5,441.8 381.9,442.0 383.2,441.8 384.6,442.0 386.0,441.9 387.3,441.9 388.7,441.9 390.1,441.7 391.5,441.9 392.8,441.8 394.2,442.0 395.5,441.6 396.9,441.8 398.2,441.4 399.6,441.4 400.9,441.4 402.3,441.2 403.6,440.9 405.0,440.8 406.3,440.7 407.7,440.7 409.0,440.4 410.4,440.1 411.7,440.2 413.1,440.0 414.4,439.9 415.8,440.0 417.1,439.8 418.5,439.7 419.8,439.7 421.2,439.7 422.5,439.4 423.9,439.3 425.5,437.5 427.2,435.5 428.6,435.4 430.0,435.2 431.4,435.2 432.7,434.9 434.1,434.8 435.5,434.6 436.8,433.9 438.1,433.6 439.4,432.6 440.7,432.1 442.0,431.0 443.7,431.2 445.3,430.2 447.0,430.2 449.5,433.0 450.9,432.1 452.2,431.6 453.6,430.2 455.3,430.9 456.9,430.5 458.6,431.3 460.2,429.4 461.9,428.4 463.5,427.4 465.2,426.0 466.8,425.6 468.5,427.7 469.9,425.8 471.2,424.0 472.6,423.1 474.3,419.4 476.0,415.0 478.0,417.0 479.5,421.0 481.0,424.0 483.3,424.4 485.0,424.7 486.6,423.9 488.0,424.5 489.3,426.4 490.7,427.2 492.4,429.3 494.0,431.0 495.4,429.3 496.7,428.9 498.1,427.2 499.8,428.9 501.4,429.1 503.1,430.5 504.5,429.4 505.8,427.1 507.2,425.5 508.6,424.6 509.9,422.8 511.3,420.6 512.6,419.9 513.9,420.3 515.3,420.3 516.6,419.9 517.9,420.1 519.3,417.8 520.7,416.2 522.1,414.8 523.8,416.7 525.4,417.8 526.8,418.4 528.1,420.9 529.5,422.3 530.9,420.3 532.2,417.6 533.6,416.5 535.1,415.5 536.6,415.4 538.0,414.5 539.5,413.1 541.0,413.2 542.7,412.4 544.3,410.4 546.0,408.2 547.6,409.9 549.3,409.2 550.9,410.7 553.4,412.4 555.0,411.1 556.7,410.7 558.2,410.8 559.6,413.1 561.0,413.1 562.5,414.5 563.9,413.9 565.2,414.6 566.6,414.8 568.0,417.1 569.3,418.5 570.7,419.5 572.4,421.1 574.0,423.0 575.7,425.6 577.4,424.6 579.0,422.3 580.4,422.1 581.9,422.0 583.3,420.7 584.7,421.1 586.1,421.3 587.5,423.3 588.9,423.9 590.5,424.6 592.2,425.6 593.5,424.1 594.9,424.5 596.2,423.1 597.5,422.5 598.9,420.5 600.2,420.9 601.6,418.6 602.9,418.5 604.4,419.6 605.9,419.3 607.3,419.5 608.8,420.3 610.3,420.6 611.8,421.9 613.2,421.5 614.6,421.9 616.1,423.1 618.6,429.4 619.9,429.7 621.2,429.5 622.6,429.6 623.9,429.9 625.2,430.5 626.8,430.6 628.5,431.3 630.1,432.2 631.8,436.0 633.2,435.6 634.5,435.4 635.9,435.5 637.3,434.9 638.6,434.8 640.0,434.6 641.6,433.5 643.3,433.0 644.9,432.3 646.6,431.4 648.2,431.3 649.7,430.6 651.1,430.0 652.5,430.4 654.0,429.7 655.4,430.6 656.7,431.0 658.1,432.2 659.4,431.9 660.7,432.2 662.1,431.1 663.4,431.6 664.7,431.0 666.1,432.0 667.5,433.2 668.9,434.3 670.3,434.6 671.6,434.3 673.0,434.4 674.4,434.6 675.7,434.9 677.1,434.4 678.5,434.8 679.8,434.7 681.2,434.6 682.9,433.8 684.5,432.7 686.2,433.4 687.8,434.1 689.5,435.0 691.1,434.8 692.8,435.0 694.4,435.5 695.9,435.0 697.3,435.5 698.8,435.0 700.2,434.8 701.6,434.6 703.1,435.1 704.5,435.0 706.0,434.6 707.4,434.4 708.7,433.6 710.1,433.2 711.5,432.8 712.8,432.6 714.2,432.2 715.6,431.8 717.0,432.1 718.3,431.8 719.7,432.5 721.1,432.5 722.5,432.0 723.8,431.6 725.2,432.3 726.6,431.6 728.0,431.6 729.3,431.2 730.7,431.7 732.1,431.3 733.5,431.2 734.9,431.0 736.2,430.4 737.6,430.5 739.0,430.2 740.3,429.5 741.7,429.6 743.0,429.2 744.4,429.4 745.7,428.8 747.0,428.7 748.4,428.8 749.7,428.9 751.2,428.9 752.6,429.6 754.0,429.9 755.5,430.2 756.9,430.6 758.2,430.6 759.6,430.7 761.0,431.0 762.4,430.5 763.8,430.6 765.1,431.4 766.5,430.6 767.9,431.3 769.2,431.3 770.6,430.7 772.0,431.3 773.6,431.1 775.3,430.7 776.9,429.7 778.3,429.9 779.7,430.1 781.1,430.2 782.5,429.5 783.9,430.0 785.3,430.1 786.6,430.5 788.0,430.5 789.4,430.6 790.8,430.4 792.2,430.8 793.6,430.6 795.0,430.5 796.7,431.1 798.3,431.0 800.0,431.7 801.3,431.2 802.7,431.4 804.0,431.6 805.4,431.4 806.7,432.2 808.0,431.9 809.4,432.0 810.7,432.1 812.0,432.2 813.4,432.0 814.7,431.5 816.0,432.4 817.4,432.4 818.7,432.1 820.1,432.2 821.4,432.2 822.8,431.9 824.2,430.9 825.5,431.2 826.9,430.3 828.3,429.6 829.7,429.7 831.1,429.1 832.5,429.3 833.9,428.3 835.4,428.6 836.8,428.5 838.2,427.5 839.6,427.2 841.0,426.9 842.4,426.9 843.8,427.1 845.3,427.1 846.7,426.8 848.1,426.7 849.5,426.4 851.1,425.0 852.8,424.7 854.1,424.6 855.4,425.2 856.8,426.2 858.1,426.0 859.4,426.7 860.7,426.2 862.0,424.9 863.4,424.4 864.7,424.1 866.0,423.9 867.3,423.2 868.6,422.3 870.0,421.3 871.3,419.6 872.6,419.0 874.2,417.1 875.9,415.2 877.5,415.8 879.2,416.5 880.8,420.6 882.5,418.9 884.1,417.3 885.5,417.2 887.0,419.1 888.5,418.4 889.9,419.5 891.3,420.7 892.6,421.0 894.0,420.6 895.3,419.8 896.6,420.5 898.0,421.1 899.3,421.4 900.6,420.6 902.2,421.0 903.9,421.5 905.6,415.7 907.2,415.3 908.9,415.2 910.5,415.7 911.8,416.8 913.1,415.8 914.5,416.8 915.8,416.3 917.1,417.3 918.5,417.1 919.9,417.6 921.2,415.8 922.6,416.8 924.0,416.0 925.4,415.7 925.4,444.5" fill="#eef1f4"/>
<g font-size="11" fill="#808a9d" text-anchor="middle" stroke="#808a9d" stroke-width="0.4"><text x="73" y="460.5">Jul '18</text><text x="144.3" y="460.5">Jan '19</text><text x="214.4" y="460.5">Jul '19</text><text x="285.2" y="460.5">Jan '20</text><text x="355.6" y="460.5">Jul '20</text><text x="427" y="460.5">Jan '21</text><text x="497" y="460.5">Jul '21</text><text x="568.1" y="460.5">Jan '22</text><text x="639" y="460.5">Jul '22</text><text x="708.8" y="460.5">Jan '23</text><text x="779" y="460.5">Jul '23</text><text x="850" y="460.5">Jan '24</text><text x="920.3" y="460.5">Jul '24</text></g>
<line x1="925.5" y1="404.5" x2="925.5" y2="416" stroke="#efefef" stroke-width="1"/><circle cx="925" cy="424.5" r="18" fill="url(#glow)" opacity="0.75"/><rect x="918" y="414.5" width="14" height="19.5" rx="7" fill="#fff" filter="url(#sh)"/>
<line x1="923.6" y1="420.5" x2="923.6" y2="427.5" stroke="#9aa2b3" stroke-width="0.85"/>
<line x1="926.6" y1="420.5" x2="926.6" y2="427.5" stroke="#9aa2b3" stroke-width="0.85"/>
</svg>
</body></html>
